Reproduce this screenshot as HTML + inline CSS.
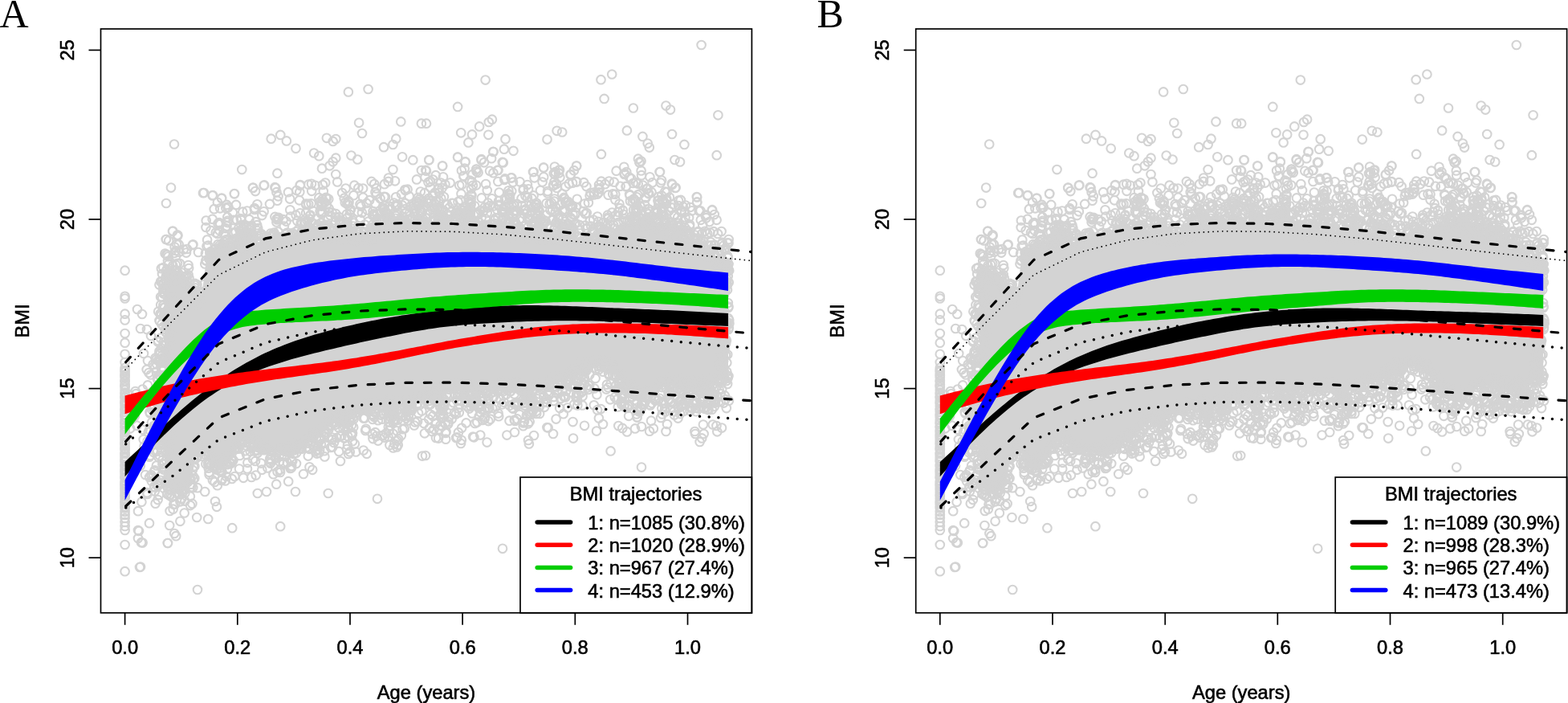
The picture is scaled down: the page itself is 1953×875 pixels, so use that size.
<!DOCTYPE html>
<html><head><meta charset="utf-8"><title>BMI trajectories</title><style>
html,body{margin:0;padding:0;background:#fff;width:1953px;height:875px;overflow:hidden}
svg{display:block}
.tl{font-family:"Liberation Sans",Arial,Helvetica,sans-serif;font-size:23.7px;fill:#000;stroke:#000;stroke-width:0.6px}
.pl{font-family:"Liberation Serif","Times New Roman",serif;font-size:50px;fill:#000}
.bx{fill:none;stroke:#000;stroke-width:1.7}
.lg{fill:#fff;stroke:#000;stroke-width:1.7}
.tk{stroke:#000;stroke-width:1.7;fill:none}
.rg{fill:none;stroke:none;marker-start:url(#ring);marker-mid:url(#ring);marker-end:url(#ring)}
.ds{fill:none;stroke:#000;stroke-width:3.2;stroke-dasharray:8.6 14.82;stroke-dashoffset:-1.55;stroke-linecap:round}
.dt{fill:none;stroke:#000;stroke-width:3.5;stroke-dasharray:0 11.71;stroke-dashoffset:-1.46;stroke-linecap:round}
.dt1{fill:none;stroke:#000;stroke-width:1.8;stroke-dasharray:0 5.855;stroke-dashoffset:-0.73;stroke-linecap:round}
</style></head>
<body><svg width="1953" height="875" viewBox="0 0 1953 875">
<defs><marker id="ring" markerWidth="14" markerHeight="14" refX="7" refY="7" markerUnits="userSpaceOnUse" overflow="visible"><circle cx="7" cy="7" r="5.3" fill="none" stroke="#d3d3d3" stroke-width="2.1"/></marker><clipPath id="clip"><rect x="125.5" y="36.0" width="810.9" height="726.8"/></clipPath></defs>
<text x="-0.5" y="34" class="pl">A</text>
<text x="1017.5" y="34" class="pl">B</text>
<g id="pA">
<g id="sc"><path d="M205.0,345.0 207.0,343.6 209.0,342.2 211.0,340.8 213.0,339.4 215.0,338.0 217.0,338.5 219.0,339.1 221.0,339.6 223.0,340.1 225.0,340.7 227.0,341.2 229.0,341.7 231.0,344.6 233.0,349.7 235.0,354.9 237.0,360.0 239.0,363.0 241.0,366.0 243.0,369.0 245.0,372.0 247.0,369.1 249.0,366.3 251.0,363.4 253.0,354.0 255.0,338.0 257.0,322.0 259.0,313.1 261.0,311.4 263.0,309.7 265.0,308.0 267.0,307.6 269.0,307.2 271.0,306.8 273.0,306.4 275.0,306.0 277.0,305.6 279.0,305.2 281.0,305.0 283.0,305.0 285.0,305.0 287.0,305.0 289.0,305.0 291.0,305.0 293.0,305.0 295.0,305.0 297.0,304.8 299.0,304.6 301.0,304.4 303.0,304.2 305.0,304.0 307.0,303.5 309.0,302.9 311.0,302.4 313.0,301.9 315.0,301.3 317.0,300.8 319.0,300.3 321.0,300.4 323.0,301.2 325.0,302.0 327.0,302.8 329.0,303.6 331.0,303.8 333.0,303.3 335.0,302.8 337.0,302.3 339.0,301.8 341.0,301.4 343.0,300.9 345.0,300.4 347.0,299.9 349.0,299.4 351.0,299.0 353.0,298.5 355.0,298.0 357.0,297.4 359.0,296.7 361.0,296.1 363.0,295.4 365.0,294.8 367.0,294.2 369.0,293.5 371.0,292.9 373.0,292.2 375.0,291.6 377.0,291.0 379.0,290.3 381.0,289.8 383.0,289.4 385.0,289.0 387.0,288.6 389.0,288.2 391.0,287.8 393.0,287.4 395.0,287.0 397.0,286.6 399.0,286.2 401.0,286.1 403.0,286.3 405.0,286.5 407.0,286.7 409.0,286.9 411.0,287.1 413.0,287.3 415.0,287.5 417.0,287.7 419.0,287.9 421.0,288.2 423.0,288.5 425.0,288.8 427.0,289.2 429.0,289.5 431.0,289.8 433.0,290.2 435.0,290.5 437.0,290.8 439.0,291.2 441.0,291.5 443.0,291.8 445.0,292.2 447.0,292.5 449.0,292.8 451.0,292.7 453.0,292.0 455.0,291.3 457.0,290.7 459.0,290.0 461.0,289.3 463.0,288.7 465.0,288.0 467.0,287.3 469.0,286.7 471.0,286.0 473.0,285.3 475.0,284.7 477.0,284.0 479.0,283.3 481.0,282.8 483.0,282.5 485.0,282.2 487.0,281.8 489.0,281.5 491.0,281.2 493.0,280.8 495.0,280.5 497.0,280.2 499.0,279.8 501.0,279.5 503.0,279.2 505.0,278.8 507.0,278.5 509.0,278.2 511.0,277.9 513.0,277.8 515.0,277.7 517.0,277.5 519.0,277.4 521.0,277.3 523.0,277.1 525.0,277.0 527.0,276.9 529.0,276.7 531.0,276.6 533.0,276.5 535.0,276.3 537.0,276.2 539.0,276.1 541.0,276.0 543.0,276.0 545.0,276.0 547.0,276.0 549.0,276.0 551.0,276.0 553.0,276.0 555.0,276.0 557.0,276.0 559.0,276.0 561.0,276.0 563.0,276.0 565.0,276.0 567.0,276.0 569.0,276.0 571.0,276.2 573.0,276.7 575.0,277.2 577.0,277.6 579.0,278.1 581.0,278.6 583.0,279.0 585.0,279.5 587.0,280.0 589.0,280.4 591.0,280.9 593.0,281.4 595.0,281.8 597.0,282.3 599.0,282.8 601.0,283.2 603.0,283.5 605.0,283.8 607.0,284.2 609.0,284.5 611.0,284.8 613.0,285.2 615.0,285.5 617.0,285.8 619.0,286.2 621.0,286.5 623.0,286.8 625.0,287.2 627.0,287.5 629.0,287.8 631.0,288.0 633.0,288.0 635.0,288.0 637.0,288.0 639.0,288.0 641.0,288.0 643.0,288.0 645.0,288.0 647.0,288.0 649.0,288.0 651.0,288.0 653.0,288.0 655.0,288.0 657.0,288.0 659.0,288.0 661.0,288.1 663.0,288.2 665.0,288.3 667.0,288.5 669.0,288.6 671.0,288.7 673.0,288.9 675.0,289.0 677.0,289.1 679.0,289.3 681.0,289.4 683.0,289.5 685.0,289.7 687.0,289.8 689.0,289.9 691.0,290.2 693.0,290.6 695.0,291.0 697.0,291.4 699.0,291.8 701.0,292.2 703.0,292.6 705.0,293.0 707.0,293.4 709.0,293.8 711.0,294.2 713.0,294.6 715.0,295.0 717.0,295.4 719.0,295.8 721.0,296.2 723.0,296.7 725.0,297.2 727.0,297.6 729.0,298.1 731.0,298.6 733.0,299.0 735.0,299.5 737.0,300.0 739.0,300.4 741.0,300.9 743.0,301.4 745.0,301.8 747.0,302.3 749.0,302.8 751.0,302.2 753.0,300.6 755.0,299.0 757.0,297.4 759.0,295.8 761.0,294.2 763.0,292.6 765.0,291.0 767.0,289.4 769.0,287.8 771.0,286.2 773.0,284.6 775.0,283.0 777.0,282.2 779.0,281.4 781.0,280.6 783.0,279.8 785.0,279.0 787.0,278.2 789.0,277.4 791.0,276.6 793.0,275.8 795.0,275.0 797.0,274.2 799.0,273.4 801.0,273.5 803.0,274.5 805.0,275.5 807.0,276.5 809.0,277.5 811.0,278.5 813.0,279.5 815.0,280.5 817.0,281.5 819.0,282.5 821.0,283.6 823.0,284.8 825.0,286.0 827.0,287.2 829.0,288.4 831.0,289.6 833.0,290.8 835.0,292.0 837.0,293.2 839.0,294.4 841.0,295.4 843.0,296.2 845.0,297.0 847.0,297.8 849.0,298.6 851.0,299.4 853.0,300.2 855.0,301.0 857.0,301.8 859.0,302.6 861.0,303.5 863.0,304.5 865.0,305.5 867.0,306.5 869.0,307.5 871.0,308.5 873.0,309.5 875.0,310.5 877.0,311.5 879.0,312.5 881.0,313.5 883.0,314.4 885.0,315.3 887.0,316.3 889.0,317.2 891.0,318.1 893.0,319.1 895.0,320.0 897.0,321.2 899.0,322.5 901.0,323.7 903.0,324.9 905.0,326.2 907.0,327.4 907.0,472.0 905.0,472.0 903.0,472.0 901.0,472.0 899.0,472.5 897.0,473.5 895.0,474.5 893.0,475.5 891.0,476.5 889.0,477.5 887.0,478.5 885.0,479.5 883.0,480.5 881.0,481.5 879.0,482.3 877.0,482.9 875.0,483.5 873.0,484.1 871.0,484.7 869.0,484.8 867.0,484.2 865.0,483.8 863.0,483.2 861.0,482.8 859.0,482.2 857.0,481.8 855.0,481.2 853.0,480.8 851.0,480.2 849.0,479.9 847.0,479.7 845.0,479.5 843.0,479.3 841.0,479.1 839.0,478.9 837.0,478.7 835.0,478.5 833.0,478.3 831.0,478.1 829.0,478.9 827.0,480.8 825.0,482.7 823.0,484.5 821.0,486.4 819.0,488.3 817.0,490.1 815.0,492.0 813.0,492.2 811.0,492.4 809.0,492.6 807.0,492.8 805.0,493.0 803.0,493.2 801.0,493.4 799.0,493.6 797.0,493.8 795.0,494.0 793.0,492.4 791.0,490.7 789.0,489.1 787.0,487.4 785.0,485.8 783.0,484.1 781.0,482.5 779.0,480.8 777.0,478.8 775.0,476.3 773.0,473.9 771.0,471.4 769.0,469.0 767.0,466.6 765.0,464.1 763.0,461.7 761.0,459.2 759.0,457.9 757.0,457.7 755.0,457.5 753.0,457.3 751.0,457.1 749.0,456.9 747.0,456.7 745.0,456.5 743.0,456.3 741.0,456.1 739.0,456.2 737.0,456.7 735.0,457.1 733.0,457.6 731.0,458.0 729.0,458.4 727.0,458.9 725.0,459.3 723.0,459.8 721.0,460.8 719.0,462.5 717.0,464.1 715.0,465.8 713.0,467.4 711.0,469.1 709.0,470.7 707.0,472.4 705.0,474.0 703.0,474.5 701.0,475.1 699.0,475.6 697.0,476.1 695.0,476.7 693.0,477.2 691.0,477.7 689.0,478.3 687.0,478.9 685.0,479.5 683.0,480.1 681.0,480.7 679.0,481.3 677.0,481.9 675.0,482.5 673.0,483.1 671.0,483.7 669.0,484.3 667.0,484.9 665.0,485.5 663.0,486.1 661.0,486.7 659.0,486.9 657.0,486.7 655.0,486.5 653.0,486.3 651.0,486.1 649.0,485.9 647.0,485.7 645.0,485.5 643.0,485.3 641.0,485.1 639.0,484.9 637.0,484.7 635.0,484.5 633.0,484.3 631.0,484.1 629.0,484.1 627.0,484.3 625.0,484.5 623.0,484.7 621.0,484.9 619.0,485.1 617.0,485.3 615.0,485.5 613.0,485.7 611.0,485.9 609.0,486.1 607.0,486.3 605.0,486.5 603.0,486.7 601.0,486.9 599.0,487.0 597.0,487.0 595.0,487.0 593.0,487.0 591.0,487.0 589.0,487.0 587.0,487.0 585.0,487.0 583.0,487.0 581.0,487.0 579.0,487.0 577.0,487.0 575.0,487.0 573.0,487.0 571.0,487.0 569.0,487.0 567.0,487.0 565.0,487.0 563.0,487.0 561.0,487.0 559.0,487.2 557.0,487.5 555.0,487.8 553.0,488.2 551.0,488.5 549.0,488.8 547.0,489.2 545.0,489.5 543.0,489.8 541.0,490.2 539.0,490.5 537.0,490.8 535.0,491.2 533.0,491.5 531.0,491.8 529.0,492.6 527.0,493.8 525.0,495.0 523.0,496.2 521.0,497.4 519.0,498.6 517.0,499.8 515.0,501.0 513.0,502.2 511.0,503.4 509.0,504.1 507.0,504.3 505.0,504.5 503.0,504.7 501.0,504.9 499.0,505.1 497.0,505.3 495.0,505.5 493.0,505.7 491.0,505.9 489.0,506.1 487.0,506.3 485.0,506.5 483.0,506.7 481.0,506.9 479.0,507.2 477.0,507.5 475.0,507.8 473.0,508.2 471.0,508.5 469.0,508.8 467.0,509.2 465.0,509.5 463.0,509.8 461.0,510.2 459.0,510.5 457.0,510.8 455.0,511.2 453.0,511.5 451.0,511.8 449.0,512.3 447.0,513.0 445.0,513.7 443.0,514.3 441.0,515.0 439.0,515.7 437.0,516.3 435.0,517.0 433.0,517.7 431.0,518.3 429.0,519.0 427.0,519.7 425.0,520.3 423.0,521.0 421.0,521.7 419.0,522.9 417.0,524.7 415.0,526.5 413.0,528.3 411.0,530.1 409.0,531.9 407.0,533.7 405.0,535.5 403.0,537.3 401.0,539.1 399.0,540.7 397.0,542.1 395.0,543.5 393.0,544.9 391.0,546.3 389.0,547.7 387.0,549.1 385.0,550.5 383.0,551.9 381.0,553.3 379.0,554.4 377.0,555.2 375.0,556.0 373.0,556.8 371.0,557.6 369.0,558.4 367.0,559.2 365.0,560.0 363.0,560.8 361.0,561.6 359.0,562.1 357.0,562.3 355.0,562.5 353.0,562.7 351.0,562.9 349.0,563.1 347.0,563.3 345.0,563.5 343.0,563.7 341.0,563.9 339.0,563.7 337.0,563.1 335.0,562.5 333.0,561.9 331.0,561.3 329.0,560.7 327.0,560.1 325.0,559.5 323.0,558.9 321.0,558.3 319.0,557.0 317.0,555.0 315.0,553.0 313.0,551.0 311.0,549.0 309.0,548.2 307.0,548.6 305.0,549.0 303.0,549.4 301.0,549.8 299.0,552.1 297.0,556.4 295.0,560.6 293.0,564.9 291.0,569.2 289.0,571.7 287.0,572.5 285.0,573.3 283.0,574.1 281.0,574.9 279.0,575.7 277.0,576.5 275.0,577.3 273.0,576.9 271.0,576.5 269.0,576.1 267.0,575.7 265.0,575.3 263.0,574.9 261.0,571.5 259.0,568.0 257.0,564.6 255.0,562.2 253.0,560.8 251.0,559.4 249.0,560.3 247.0,563.4 245.0,566.5 243.0,569.6 241.0,583.8 239.0,598.0 237.0,601.4 235.0,604.9 233.0,608.3 231.0,610.6 229.0,611.8 227.0,613.0 225.0,614.2 223.0,615.4 221.0,615.4 219.0,614.2 217.0,613.0 215.0,611.8 213.0,610.6 211.0,607.1 209.0,601.4 207.0,595.7 205.0,590.0Z" fill="#d3d3d3"/><path d="M196.2 561.3L196.3 520.3L196.3 535.7L196.9 448.8L197.2 387.8L196.7 473.5L196.9 504.4L197.6 569.2L198.2 548.7L198.5 399.0L198.0 548.0L197.6 488.8L198.5 354.5L198.9 525.7L199.0 529.6L199.0 399.7L198.9 548.1L199.1 567.2L198.5 437.3L200.1 369.5L200.1 350.4L199.9 439.3L200.2 379.5L200.4 550.6L200.5 391.9L199.6 554.4L199.9 420.8L199.9 504.2L199.7 467.2L200.9 334.2L201.4 403.4L200.9 516.5L201.2 458.7L201.1 506.7L200.9 503.0L201.1 513.0L201.0 433.4L200.9 562.6L200.7 392.0L201.7 350.6L202.0 340.9L202.4 577.6L202.1 590.7L201.7 592.3L202.3 573.0L202.0 442.6L202.0 543.6L202.2 370.2L201.7 552.3L202.0 504.7L202.3 499.9L202.7 354.0L203.4 333.1L203.0 451.6L203.4 379.9L203.4 362.8L203.4 429.6L203.2 352.9L202.9 509.9L203.1 539.8L202.7 445.5L203.1 358.8L203.3 449.0L203.7 584.4L204.4 516.0L203.8 426.0L203.6 406.5L204.1 523.2L203.8 430.8L204.3 577.5L203.6 365.6L204.3 467.0L203.9 499.9L204.3 365.3L204.5 577.4L203.9 460.7L203.8 488.9L203.7 476.3L204.4 469.5L204.3 391.4L204.7 352.2L205.4 538.0L205.2 474.9L205.0 584.6L205.0 365.6L204.6 490.9L205.2 498.9L205.9 347.0L205.6 315.6L206.5 598.4L205.6 358.1L205.6 538.6L205.9 466.8L206.0 395.8L205.5 389.5L206.4 428.5L205.9 410.0L206.2 518.9L205.9 470.2L205.9 486.8L206.1 487.8L206.9 344.0L206.9 351.6L207.1 316.8L207.3 337.3L206.8 521.6L206.8 392.6L206.5 409.8L207.4 356.1L207.1 572.9L207.2 414.4L208.0 345.5L208.5 317.3L208.0 335.0L207.6 339.8L208.1 597.4L207.9 605.2L208.3 614.4L207.8 600.3L208.3 563.9L207.6 475.1L207.6 389.0L208.0 407.5L208.3 436.3L207.7 503.8L207.8 359.9L208.5 390.0L207.6 465.8L209.5 341.5L208.6 615.1L209.3 601.6L209.2 606.4L209.1 594.4L209.0 563.4L209.3 494.3L209.0 453.7L209.1 393.0L208.9 509.9L208.8 398.4L208.6 550.8L209.4 558.4L209.2 498.9L209.6 319.3L210.2 299.5L210.2 328.8L209.8 608.8L209.6 348.3L209.8 602.0L210.2 453.9L209.7 373.4L209.9 513.2L210.3 463.0L211.0 342.4L211.1 341.2L211.0 342.4L210.9 340.8L210.8 616.6L211.2 421.5L211.2 550.9L210.5 398.2L210.8 498.6L211.0 492.1L211.6 636.0L211.9 610.3L212.1 344.6L212.3 427.1L211.6 380.4L212.3 584.7L211.7 609.5L212.4 429.0L211.6 380.9L211.9 395.6L211.7 413.7L212.4 349.9L212.4 461.4L213.4 341.2L212.6 615.8L213.4 451.9L213.5 601.6L212.8 371.0L213.3 594.5L213.1 600.9L213.0 481.5L212.6 439.7L213.4 367.4L212.6 348.4L213.0 503.1L213.0 577.8L214.1 343.8L214.1 618.8L213.8 377.0L214.2 534.8L213.6 412.5L213.6 505.5L213.8 575.7L213.8 514.3L214.1 595.4L214.2 592.9L214.1 339.6L213.8 540.5L213.8 518.0L213.6 514.9L215.3 330.6L216.3 627.7L215.6 633.7L217.1 315.1L217.4 604.2L218.4 342.9L217.6 307.5L218.0 336.0L218.3 627.4L218.8 344.8L218.8 329.6L219.1 318.7L220.0 336.5L220.3 613.8L221.3 348.9L221.0 327.9L220.8 292.7L222.2 340.3L222.5 343.4L223.0 313.7L223.5 615.4L224.4 624.3L226.4 339.5L226.4 610.0L225.9 611.0L225.9 620.5L226.2 620.8L227.3 349.7L226.9 605.4L227.1 612.4L227.3 608.9L228.8 344.7L228.7 310.5L229.5 608.5L230.2 350.8L230.3 623.7L230.4 613.8L229.7 638.5L231.1 345.3L232.0 314.6L233.1 354.6L233.3 350.2L233.2 355.8L232.9 351.0L232.5 343.2L234.2 356.4L234.5 330.0L234.5 342.1L234.0 600.0L235.1 363.5L235.1 334.0L235.4 346.1L236.4 597.6L237.3 365.7L236.7 363.4L237.3 596.0L236.9 617.7L237.0 629.1L237.6 596.8L238.3 606.3L238.3 602.8L238.7 359.7L238.6 358.7L239.4 626.9L240.3 365.0L239.5 365.2L239.9 584.9L240.0 591.9L240.3 607.0L240.6 366.5L241.1 580.7L240.8 596.6L241.5 376.8L242.2 357.9L242.1 354.7L242.2 572.2L242.4 580.2L242.3 595.2L242.9 369.6L242.9 371.2L242.8 352.9L243.0 362.3L243.1 566.3L244.0 379.5L244.1 364.8L244.1 361.9L243.7 561.1L244.5 562.1L244.5 569.9L245.3 378.4L245.5 354.2L246.7 567.8L248.0 364.1L248.0 554.2L249.0 376.2L250.5 368.0L249.8 549.5L250.4 561.5L251.3 567.9L251.0 560.8L252.4 363.3L252.3 553.7L254.2 354.1L255.3 328.4L254.5 565.5L256.4 324.6L255.9 315.5L256.5 283.0L256.4 577.4L256.8 324.0L256.7 274.5L258.1 298.5L257.5 306.6L257.6 561.3L259.3 305.7L259.1 577.3L260.3 322.1L259.5 567.4L260.0 563.4L260.5 587.8L259.7 582.7L259.9 578.0L261.4 314.3L261.4 575.6L260.6 590.7L260.6 577.8L261.9 317.2L261.9 320.2L262.0 315.2L262.5 313.2L262.4 579.4L262.6 318.5L262.5 286.9L263.9 567.9L264.9 597.7L265.9 572.6L267.5 600.0L267.8 315.5L267.8 310.0L267.8 579.2L268.1 580.8L267.6 576.2L269.8 572.5L269.6 584.6L271.5 278.2L271.0 291.0L270.7 583.4L270.8 604.2L271.6 304.0L273.3 305.7L273.4 286.8L272.9 579.4L274.0 308.0L273.7 314.6L273.6 315.4L274.2 259.3L274.2 279.0L273.9 577.6L273.9 586.6L275.2 315.4L274.5 572.7L274.5 582.4L275.3 585.6L275.7 308.6L275.7 309.1L276.1 598.1L276.9 307.2L276.6 312.8L277.2 575.2L277.3 568.8L276.5 587.3L276.8 595.9L277.7 310.2L278.4 291.1L277.5 304.9L278.3 572.9L278.1 577.6L278.5 305.2L278.8 301.0L278.6 573.9L280.0 305.6L279.8 565.7L279.8 572.6L280.7 284.1L280.8 293.6L281.3 298.3L280.7 598.4L282.5 281.6L281.9 593.0L283.2 310.0L283.0 298.7L283.4 277.1L283.3 270.2L282.9 584.0L283.6 311.6L283.5 257.7L284.4 566.5L283.7 566.8L283.6 578.1L284.6 305.9L284.5 258.0L285.8 564.3L286.1 576.8L287.7 306.5L287.6 571.2L287.8 576.7L288.7 298.5L288.6 571.5L289.3 572.9L289.2 572.5L289.7 314.8L289.8 574.0L290.9 273.9L290.9 299.8L290.5 572.8L292.5 310.6L291.7 312.7L291.7 290.2L291.9 559.1L292.3 593.0L292.6 305.4L293.5 556.7L292.7 559.5L293.9 310.7L293.6 288.8L294.4 553.2L295.0 306.1L294.5 296.5L295.5 299.2L295.3 296.6L295.0 273.8L294.6 558.6L297.5 311.1L297.5 303.4L297.5 300.1L297.3 283.7L297.4 304.2L297.3 303.3L297.0 558.7L298.1 303.7L298.1 551.8L298.0 583.5L299.1 311.9L298.9 287.5L298.7 301.3L299.4 302.1L299.2 549.5L299.0 551.9L298.6 567.0L300.0 294.9L299.8 272.1L299.7 292.4L299.7 295.0L300.4 274.1L300.3 297.2L300.4 280.2L300.1 547.3L300.4 550.3L301.2 288.1L301.3 303.4L300.7 550.6L301.7 285.4L301.8 284.4L302.2 292.5L302.5 300.3L302.4 302.3L302.3 263.7L302.0 551.3L302.0 550.7L302.0 551.3L302.9 304.8L303.2 298.3L302.6 294.7L304.3 283.0L304.3 279.6L304.4 290.5L304.9 303.4L304.6 296.5L305.2 303.4L304.8 303.8L305.3 290.3L304.6 299.3L305.2 542.0L304.6 547.7L305.2 561.2L306.1 294.9L305.9 303.1L306.0 300.3L305.7 551.1L307.4 309.7L306.8 300.5L306.9 293.0L306.6 299.9L307.4 302.3L307.3 281.2L307.1 288.7L307.2 294.2L307.4 295.0L307.2 566.1L306.9 554.8L308.3 300.5L307.8 262.6L307.7 300.9L307.8 298.5L307.7 302.0L308.4 575.8L308.0 583.5L308.9 298.2L308.6 301.9L310.3 312.4L310.3 305.6L310.4 302.0L310.0 286.1L310.5 290.4L310.4 302.1L310.0 297.2L311.0 296.2L310.5 301.6L310.5 273.2L312.1 306.3L312.4 282.9L312.0 547.4L312.4 553.2L311.7 561.8L313.2 300.5L312.6 283.6L313.3 290.5L313.4 280.9L313.1 543.9L314.5 304.1L314.5 294.4L313.9 290.0L313.8 297.1L314.2 301.3L314.2 301.1L314.5 555.2L315.0 556.9L315.0 571.4L317.0 260.9L317.0 259.1L317.2 547.2L316.7 551.3L318.5 276.2L318.3 560.5L318.7 591.6L319.4 560.3L320.2 280.2L320.4 254.3L320.1 555.4L320.3 560.7L320.6 301.8L320.5 301.9L321.2 300.4L321.2 284.2L320.5 287.0L320.5 549.7L320.7 563.5L320.6 563.9L322.5 308.8L322.1 293.7L322.1 557.2L323.4 310.6L324.1 557.3L325.4 308.9L325.2 300.6L325.4 292.9L325.1 576.6L326.4 268.1L325.5 291.0L326.4 557.1L326.3 584.7L326.9 309.6L326.8 559.9L328.5 305.4L328.9 303.3L328.8 295.4L329.3 551.9L329.1 556.6L328.8 555.3L330.4 296.4L329.6 560.2L331.8 307.9L331.9 310.2L331.7 306.3L331.6 559.3L332.1 556.1L333.3 582.4L333.7 296.3L334.7 308.9L335.0 300.8L335.2 299.6L336.0 305.3L336.1 294.2L335.8 575.0L336.2 570.7L337.2 302.7L336.9 311.8L337.2 301.6L336.9 290.7L336.7 300.1L337.1 560.3L337.1 560.9L336.9 576.7L337.8 302.2L337.5 572.0L339.2 292.1L338.9 301.2L339.2 559.3L339.0 560.5L339.4 560.1L339.9 310.8L340.5 590.2L341.4 289.6L341.4 293.1L341.6 307.2L342.3 299.7L342.5 269.9L342.1 291.7L342.6 306.6L342.7 300.7L342.9 297.6L342.7 569.2L344.3 302.6L343.9 304.5L343.8 302.7L344.2 295.5L344.4 276.4L343.9 570.5L344.2 602.7L345.2 273.5L344.7 272.3L345.2 561.1L346.5 299.7L346.4 288.6L346.2 271.9L345.8 562.9L345.6 587.3L347.1 305.2L346.6 309.6L347.0 270.8L347.1 294.9L346.5 244.3L347.0 556.4L347.6 567.3L348.2 574.5L348.7 584.8L349.6 301.8L350.3 556.7L350.8 303.6L351.0 296.9L350.6 567.6L351.9 303.1L352.1 300.8L352.2 558.2L353.4 295.3L352.7 273.2L353.1 575.9L352.6 577.7L353.9 281.6L354.3 561.6L354.2 567.6L355.0 304.5L355.3 306.8L355.7 306.0L356.1 291.0L356.0 295.0L356.5 275.6L355.9 561.8L356.9 304.6L357.7 300.0L357.8 289.5L357.8 575.7L359.0 562.6L358.7 562.4L361.3 261.3L361.5 582.9L360.9 562.1L362.0 269.5L361.7 292.0L363.4 299.2L362.7 293.8L363.0 553.6L362.9 582.2L363.2 580.1L363.0 560.9L363.9 298.7L364.2 290.1L363.6 557.3L364.2 551.3L364.3 573.9L364.8 559.8L366.2 298.7L366.2 555.6L366.4 549.8L366.2 560.4L365.8 565.0L367.1 301.1L367.3 292.6L366.8 551.0L366.9 549.8L367.4 559.5L369.3 297.4L368.6 267.7L368.7 288.3L369.4 237.0L368.6 550.8L369.0 563.7L369.0 577.1L370.3 274.9L370.2 555.6L371.3 286.2L373.3 239.0L372.9 249.3L372.9 558.0L373.4 558.4L373.8 265.3L374.3 290.7L375.4 291.2L374.7 277.4L375.3 288.7L375.4 558.8L376.0 296.3L376.2 278.6L376.4 551.1L376.2 554.9L377.0 288.0L376.7 548.0L376.8 553.0L377.6 549.9L379.2 299.3L379.3 277.5L379.8 298.8L380.3 276.3L380.4 287.9L380.5 546.4L381.3 297.5L381.1 297.6L380.7 294.3L381.2 253.5L381.3 254.9L381.1 265.2L382.2 292.8L382.1 293.0L381.9 543.8L382.0 556.6L382.6 287.4L382.7 274.9L383.5 292.1L383.8 282.6L384.1 283.2L384.2 281.9L384.2 288.2L383.6 551.6L383.8 567.6L385.3 298.9L385.0 272.5L385.5 581.3L385.1 558.5L385.5 287.1L385.8 268.4L385.8 543.9L385.9 559.0L386.6 267.7L386.9 540.9L387.0 550.2L388.2 237.8L387.7 276.2L387.6 253.3L388.3 287.4L388.3 539.4L390.3 262.9L390.0 543.7L389.9 546.0L389.6 549.5L391.3 287.0L391.0 278.7L391.5 542.5L390.7 556.6L391.5 287.3L391.8 284.2L391.5 540.4L393.3 290.9L392.7 294.0L392.7 561.5L394.0 291.0L394.1 539.3L393.8 545.1L394.7 288.1L395.2 283.4L394.7 564.6L395.1 560.6L396.0 279.7L395.9 281.3L396.2 555.6L397.4 246.2L397.3 538.0L397.5 546.0L397.5 563.4L398.2 560.2L398.8 250.8L398.6 262.7L398.6 530.7L399.0 531.5L399.0 545.2L398.6 548.0L400.2 256.6L400.5 253.4L399.7 277.5L399.8 265.7L400.3 265.3L399.9 545.6L399.9 552.7L399.9 546.1L401.0 295.3L400.7 284.4L400.6 277.5L401.3 263.7L401.0 253.5L401.6 287.2L401.6 295.7L401.6 291.6L401.6 247.8L401.8 281.8L401.8 264.5L402.4 284.1L403.2 289.3L403.2 289.8L402.8 238.0L403.2 280.3L403.6 293.5L404.2 282.8L404.4 551.7L404.0 561.2L404.4 568.4L404.0 544.1L404.7 283.6L404.5 252.0L404.8 540.3L404.8 537.8L406.1 293.3L405.9 245.9L405.7 281.5L407.3 292.5L407.0 279.9L407.1 246.6L407.0 254.7L408.4 522.9L408.2 533.3L408.8 272.8L409.4 263.6L409.3 247.8L408.7 280.0L409.5 530.1L409.3 535.1L408.7 544.7L409.9 296.0L409.8 293.3L409.8 259.7L411.2 267.9L410.6 524.1L412.3 292.0L412.1 286.6L411.9 557.0L412.9 292.9L413.5 520.4L413.5 544.6L413.1 529.2L413.6 264.5L413.5 526.2L413.6 547.4L414.2 556.5L415.1 526.4L415.9 550.9L416.8 294.9L417.4 284.3L417.4 276.6L417.2 528.9L417.5 526.1L418.0 270.4L418.2 266.1L419.5 289.2L418.7 296.6L419.8 285.8L420.1 512.9L419.6 544.9L421.3 296.9L421.4 293.2L421.1 515.8L421.4 522.6L421.5 532.1L422.4 290.1L422.3 273.6L422.3 270.2L422.2 561.9L423.1 278.8L423.0 276.2L422.7 519.7L424.2 276.6L424.1 288.6L424.1 518.8L424.4 519.6L424.4 524.5L423.6 542.9L424.6 278.7L425.0 518.1L425.5 521.3L425.4 542.6L425.6 292.4L426.0 288.3L426.2 240.1L426.4 515.3L425.6 517.6L426.4 511.0L426.4 511.3L426.5 515.5L426.7 283.9L427.5 278.8L426.9 513.1L427.5 533.2L427.1 522.2L428.2 298.7L428.5 282.0L427.7 283.5L427.8 516.9L429.3 296.6L428.7 246.7L429.1 545.1L429.3 522.2L429.1 524.9L428.8 523.7L429.2 526.7L429.0 545.5L429.2 520.1L429.2 531.0L429.1 523.5L429.0 523.6L430.0 285.2L429.8 252.2L430.1 525.1L430.6 234.6L431.2 289.0L431.3 522.7L431.7 298.2L431.6 279.3L432.2 253.5L432.3 271.6L431.9 266.5L432.0 559.1L432.1 527.7L433.5 297.0L432.8 291.2L433.1 293.4L433.3 299.3L432.7 277.3L433.5 286.6L433.2 543.1L432.8 532.3L433.0 554.2L434.1 250.2L434.0 255.2L433.7 516.9L434.1 533.5L434.0 565.0L435.2 291.2L434.5 252.0L435.3 523.8L435.6 266.9L436.0 262.5L435.7 524.0L435.8 562.4L435.6 525.3L435.9 521.5L437.3 291.1L437.1 294.9L436.9 291.5L436.9 260.8L437.0 290.4L437.2 288.6L436.7 509.8L437.5 539.1L436.7 524.0L437.5 292.6L438.0 510.0L438.2 507.2L437.8 515.7L437.8 529.3L438.1 541.9L438.6 295.9L438.6 288.8L439.0 274.4L439.0 549.2L438.8 539.9L439.4 519.7L439.0 539.3L440.3 291.7L440.4 300.1L439.5 291.2L439.9 281.5L440.4 243.2L440.2 531.8L440.9 277.5L440.5 521.8L441.6 511.3L441.8 552.6L443.4 299.7L443.5 286.9L443.3 562.5L442.6 514.4L444.9 298.9L445.2 297.4L446.0 263.7L446.4 234.1L446.1 286.9L446.4 508.8L446.2 512.9L447.0 289.5L446.7 281.4L447.8 294.4L448.4 302.3L448.3 505.6L448.3 510.4L449.2 297.2L448.5 254.2L448.6 273.2L449.4 286.4L449.4 506.1L449.2 511.1L450.2 298.3L449.7 256.7L450.7 297.9L450.9 264.8L451.5 509.3L451.7 296.8L452.2 245.8L452.1 234.6L453.3 298.2L452.9 294.1L452.7 560.6L452.6 520.6L454.2 289.0L454.3 279.6L454.0 508.5L454.0 508.5L454.0 501.9L454.3 520.6L454.8 289.0L455.2 535.9L456.0 503.8L455.8 533.8L456.6 252.9L457.4 511.5L457.6 261.5L457.9 508.8L458.2 511.3L458.7 293.9L459.1 295.1L459.3 298.8L458.9 293.8L458.8 275.7L460.2 249.2L460.1 505.9L461.2 298.8L461.2 284.9L462.1 283.4L461.5 504.4L462.9 288.3L463.5 499.9L463.8 294.4L463.7 284.0L463.7 287.2L463.7 279.9L464.1 268.0L463.7 505.1L464.1 515.7L464.2 521.9L463.8 540.2L464.5 546.1L465.2 266.4L464.6 263.1L464.9 517.1L466.0 296.6L465.5 296.2L466.2 284.3L465.8 286.7L466.2 229.0L465.9 500.4L465.9 519.1L466.8 289.6L467.0 289.3L467.4 253.4L467.2 269.0L466.6 282.4L466.9 504.7L467.0 509.5L467.4 538.2L467.1 513.7L467.5 239.2L467.9 286.1L468.3 504.7L467.9 504.3L468.3 512.2L468.2 513.8L468.9 281.5L469.2 272.6L469.4 273.2L469.0 276.4L469.3 285.4L468.7 234.4L469.1 241.6L468.9 280.4L469.3 503.3L468.9 542.8L470.3 278.0L470.0 266.1L470.6 292.3L471.3 283.6L470.9 548.6L470.9 523.2L471.9 273.2L472.0 282.9L474.1 285.6L473.7 293.5L473.5 246.9L474.0 506.0L473.9 516.2L474.6 288.6L474.7 285.2L475.4 288.8L475.1 281.5L474.6 265.4L474.6 516.6L475.8 284.3L475.9 283.6L476.1 281.9L475.7 272.0L475.7 276.3L475.6 507.1L475.8 521.7L476.0 513.9L476.0 542.1L477.4 289.2L477.4 294.0L477.2 283.5L476.8 258.3L476.6 542.4L477.6 261.4L478.1 259.4L478.4 244.9L478.5 291.8L478.9 256.1L478.9 229.2L478.9 498.2L478.8 544.6L480.4 284.4L479.5 290.1L480.0 264.5L480.5 268.9L480.0 263.1L480.0 245.2L480.9 283.3L481.4 264.4L480.8 512.5L481.0 539.3L482.3 284.3L482.0 291.9L482.4 289.9L482.4 506.5L482.8 266.4L482.7 266.2L483.4 266.4L482.5 280.3L483.0 276.5L483.9 221.5L484.2 277.2L484.2 260.8L483.7 497.5L484.1 525.1L484.2 514.6L483.5 543.6L484.0 520.7L483.8 531.4L484.6 256.7L484.6 280.7L484.8 280.3L484.8 274.3L484.6 536.1L485.4 553.9L484.9 513.1L485.6 270.6L486.2 498.5L485.8 514.7L486.3 530.0L487.5 284.9L486.7 271.5L487.2 278.6L487.0 500.2L486.6 510.1L487.4 508.7L487.7 273.9L488.0 513.1L487.7 520.4L488.7 514.0L488.6 517.2L489.5 525.4L489.4 511.0L490.0 288.1L489.7 557.4L489.8 516.0L489.5 539.8L490.3 523.1L489.8 508.9L490.0 512.2L490.6 252.6L491.1 280.6L491.2 505.1L491.3 552.6L491.3 511.9L491.5 524.0L490.8 523.1L492.3 287.2L492.0 225.3L492.4 271.8L492.2 500.1L492.1 523.2L493.3 269.0L493.0 256.9L493.0 280.0L493.2 275.1L493.1 255.0L493.1 245.3L494.4 536.3L494.3 509.9L494.2 556.4L494.8 255.7L494.8 267.0L494.9 548.6L495.5 522.8L496.2 289.8L495.7 280.3L495.5 254.5L496.0 277.3L495.8 553.8L496.2 546.6L496.5 285.9L497.4 289.7L497.1 282.5L497.2 289.6L496.9 274.1L498.2 282.9L497.7 498.0L499.4 272.4L500.5 286.7L500.0 241.6L500.4 261.8L499.9 495.8L499.8 542.0L501.1 289.3L501.2 269.3L501.0 255.4L501.2 506.3L502.2 287.5L501.8 275.0L502.1 503.4L502.5 504.7L501.5 534.2L502.2 518.3L503.2 287.3L502.9 275.8L502.9 501.6L502.8 524.0L503.8 280.0L504.4 236.0L504.5 252.9L503.7 533.4L505.1 288.4L505.0 282.0L504.7 260.2L505.5 265.4L504.8 236.9L505.2 517.7L505.5 282.1L505.5 275.3L506.0 520.5L506.1 512.0L506.8 276.9L507.1 272.9L507.3 503.2L507.3 506.0L507.0 510.7L507.6 235.7L507.9 503.2L507.6 505.2L509.3 281.5L509.1 278.3L508.8 281.4L508.8 279.6L508.5 280.4L508.6 523.3L508.9 517.6L509.7 244.2L510.1 500.3L509.5 504.2L510.2 508.3L510.7 257.6L510.6 509.9L511.3 507.5L511.7 256.5L511.8 499.1L512.9 282.8L513.5 282.9L513.2 282.0L512.8 271.2L513.0 273.6L513.2 497.8L512.7 500.6L512.5 505.6L513.1 503.2L512.8 511.0L514.3 284.1L514.0 282.0L514.2 498.4L514.1 494.6L514.8 282.9L514.5 259.8L515.8 255.3L515.9 529.5L516.8 266.6L516.9 265.8L516.8 262.2L517.1 525.5L517.6 278.3L517.5 280.6L517.6 259.5L518.8 250.6L519.2 495.6L518.9 504.7L520.0 277.3L520.0 273.1L519.7 252.5L519.7 495.2L520.1 524.4L521.1 282.3L520.9 245.8L521.1 514.3L520.5 502.1L522.0 252.5L521.6 273.9L522.4 255.3L521.8 492.3L523.0 279.4L522.7 261.7L522.8 247.8L522.7 504.1L523.7 286.2L523.8 238.6L524.0 264.7L523.5 261.5L524.2 275.4L523.9 276.5L524.2 491.4L525.3 250.8L524.9 494.3L524.5 495.6L525.4 511.5L526.1 282.4L525.5 285.3L525.8 263.9L525.7 274.6L526.4 491.6L526.8 284.2L527.0 286.0L527.1 276.6L527.0 275.3L527.4 257.4L526.6 259.5L526.8 492.7L528.1 489.3L528.1 527.0L529.5 278.2L529.3 277.1L529.5 220.4L528.9 240.2L529.1 488.2L528.9 539.3L530.3 271.5L530.4 488.4L530.0 484.2L531.4 283.1L531.4 281.2L531.0 485.1L531.2 497.1L532.3 276.7L532.1 252.7L532.0 271.3L532.1 494.3L533.3 252.8L532.9 490.2L533.4 482.5L533.5 281.5L533.5 226.9L534.5 249.6L533.8 247.0L533.8 483.2L534.2 521.8L534.0 499.1L534.5 492.0L534.5 285.6L535.2 280.0L535.4 266.6L535.5 481.7L534.7 504.0L534.9 532.9L536.1 286.1L535.9 233.2L536.0 225.6L536.2 502.8L535.7 498.6L536.3 515.8L537.3 250.8L537.3 487.7L536.5 503.0L537.0 491.8L538.3 286.1L537.5 493.5L538.1 537.0L539.5 255.2L538.8 260.9L539.2 223.5L539.3 244.1L539.2 489.1L539.2 517.9L540.4 271.4L540.2 484.7L540.4 534.3L540.4 495.7L539.9 497.4L540.9 283.8L541.5 239.9L540.7 274.2L541.1 260.8L540.7 275.9L540.9 258.6L541.6 284.1L541.9 275.1L542.4 254.6L541.6 273.4L542.5 489.2L542.4 488.0L542.1 496.3L542.2 509.4L542.7 218.2L542.7 250.3L543.4 484.9L542.7 527.2L543.4 526.4L544.5 482.7L544.2 484.1L544.4 497.8L545.5 283.7L544.8 258.2L545.1 493.3L545.7 274.9L545.9 273.0L546.5 269.4L545.5 259.3L545.7 234.5L545.8 271.4L545.7 500.5L546.1 545.6L546.0 499.2L546.3 490.1L547.2 279.4L546.6 283.1L546.7 249.9L546.7 234.7L547.2 260.5L547.0 240.1L547.2 500.2L546.9 534.4L547.5 273.6L548.0 516.0L548.0 505.3L547.9 505.1L548.2 506.7L548.5 529.5L547.7 496.6L549.4 270.1L549.3 246.8L549.2 261.6L549.1 502.7L550.2 267.6L550.0 521.0L550.1 511.5L549.7 492.7L550.7 233.9L551.5 479.6L551.5 483.4L550.9 530.5L551.0 508.5L550.9 495.5L552.5 270.4L552.0 220.3L552.3 261.7L552.4 275.3L552.5 273.1L552.1 497.3L551.8 519.1L552.3 501.5L552.1 515.5L552.9 245.1L553.0 504.4L553.2 506.6L552.9 496.7L554.4 229.6L555.0 539.0L555.2 546.7L554.7 526.4L556.4 273.0L555.9 491.6L557.2 254.7L556.6 490.9L557.4 494.4L558.3 285.6L558.1 275.3L557.8 266.8L558.2 527.8L559.1 276.1L558.5 525.3L559.0 519.5L560.1 273.2L559.7 258.4L559.7 484.7L560.3 491.7L559.6 492.0L560.6 284.5L561.6 282.6L562.1 278.4L561.6 263.7L562.0 504.6L563.3 281.7L563.1 252.8L562.7 521.6L564.3 253.1L564.0 272.6L563.9 477.2L564.7 501.2L565.7 277.1L566.0 280.5L566.0 513.9L566.8 265.7L567.4 482.1L568.2 276.8L567.8 270.1L567.5 480.4L568.5 478.0L568.1 544.9L567.8 515.6L568.8 282.7L568.5 270.6L569.3 264.6L569.4 499.0L569.5 544.4L569.9 279.4L570.2 268.1L569.6 267.2L570.0 271.3L570.2 484.3L569.9 498.6L570.4 491.0L570.3 508.2L571.0 281.1L570.5 251.2L570.9 538.2L571.8 266.3L571.9 263.9L571.8 488.8L571.8 513.5L572.9 478.3L572.7 478.4L572.7 491.3L572.5 503.6L573.8 271.8L573.9 261.3L573.6 264.8L573.7 249.1L574.4 479.9L573.6 484.5L573.6 477.1L573.6 498.4L574.9 212.3L575.3 229.8L574.5 241.3L575.0 486.6L574.5 492.8L575.1 532.8L574.8 547.8L576.9 261.9L576.8 483.2L576.9 494.2L578.3 489.3L578.0 491.8L579.3 259.7L579.0 257.6L578.6 209.7L578.7 272.4L579.2 270.1L579.4 267.9L579.3 481.9L579.3 493.7L579.3 494.0L578.7 491.8L578.8 493.1L579.4 493.4L579.6 286.0L580.2 267.2L579.7 482.7L581.4 272.1L581.2 267.0L580.8 483.6L581.0 479.5L580.6 485.5L580.6 526.4L581.4 505.5L582.2 287.1L582.0 263.5L581.9 261.7L581.9 483.9L581.7 500.9L582.1 490.2L582.7 280.9L582.7 276.4L582.9 277.9L583.2 266.2L582.8 277.9L582.7 478.1L582.9 496.9L583.6 281.5L584.1 250.5L584.1 267.8L583.7 247.6L583.7 275.5L584.5 508.6L584.8 281.7L585.4 269.1L584.5 270.6L585.0 269.7L585.3 224.7L585.4 252.9L585.1 480.2L585.9 265.9L586.2 273.0L586.0 275.5L585.6 259.6L586.5 501.3L586.2 500.8L586.4 505.8L586.7 260.9L586.5 242.4L587.1 243.2L587.4 242.9L587.0 275.8L586.7 254.2L586.6 248.6L586.9 235.1L587.6 280.9L588.4 284.6L587.8 226.2L587.8 277.9L587.9 498.1L588.3 500.2L588.1 514.5L589.0 277.8L588.6 217.2L589.1 478.9L588.6 479.3L588.7 503.1L589.2 490.5L588.5 487.3L588.8 501.6L589.1 543.6L590.4 275.8L590.3 494.9L590.4 544.3L591.1 286.1L591.2 256.3L591.2 274.6L591.5 278.2L590.8 501.2L591.9 278.6L592.3 486.5L591.6 526.9L591.9 492.8L591.6 494.8L593.3 267.3L593.2 500.7L592.9 494.5L592.9 492.1L593.7 265.1L593.6 213.4L593.5 281.2L593.9 486.7L594.3 525.6L593.5 498.4L595.2 282.9L595.4 281.3L594.8 483.1L595.0 487.4L595.8 266.4L596.4 280.7L595.6 214.8L595.9 482.0L597.4 277.3L597.4 483.4L597.0 507.0L596.6 506.0L596.8 517.9L598.0 285.5L598.3 541.5L597.9 489.8L598.1 505.3L599.0 287.0L598.5 262.1L598.5 499.1L598.5 503.1L598.6 513.2L598.5 495.2L600.0 285.5L599.9 289.8L599.8 246.4L599.7 270.8L599.7 478.9L600.1 478.5L600.2 480.8L599.7 509.4L600.1 499.0L599.8 504.3L600.3 494.7L600.9 281.6L600.7 481.1L601.2 499.2L601.0 522.9L602.1 263.1L601.6 263.8L604.4 293.3L603.7 257.9L603.6 521.4L604.0 519.0L604.9 284.7L604.8 281.0L605.1 229.1L604.9 272.6L604.7 483.3L605.4 507.3L606.3 287.0L606.2 486.0L605.6 489.9L606.1 489.3L606.3 487.6L606.5 280.2L606.7 265.0L607.0 258.6L607.2 509.4L607.5 492.4L607.5 286.5L608.0 252.6L607.6 509.1L608.3 524.1L608.2 495.4L609.2 289.9L609.4 507.8L610.2 286.8L610.1 291.7L610.5 279.1L610.1 282.4L610.3 256.1L610.1 212.8L610.5 481.4L609.7 502.4L610.8 284.1L611.1 283.5L610.8 521.7L610.9 489.5L611.9 289.7L611.8 293.9L612.0 290.6L612.5 479.3L612.9 294.9L613.0 279.0L612.7 247.3L613.4 483.2L613.3 508.0L614.4 215.2L614.5 256.5L615.5 273.9L614.9 283.4L614.7 488.1L614.6 494.8L614.6 493.4L615.7 294.8L616.1 289.4L616.3 273.8L616.7 294.4L617.4 271.3L616.9 278.4L618.1 295.0L618.0 505.9L619.1 260.9L618.8 280.7L618.6 285.6L619.0 486.2L620.3 291.1L620.5 288.9L620.3 226.0L620.4 271.4L621.3 254.9L621.4 256.6L621.1 250.3L621.0 280.4L621.4 485.5L621.2 518.2L620.9 486.1L620.6 514.6L622.1 287.5L621.7 239.6L622.3 479.9L623.2 497.1L623.7 289.1L623.7 292.8L624.1 281.7L623.7 475.7L623.9 486.4L625.3 263.6L624.7 278.6L624.8 475.0L625.4 503.4L626.4 292.5L626.1 290.9L626.4 264.0L625.8 273.2L625.7 287.1L625.9 481.5L626.6 260.0L627.5 271.3L627.1 480.9L627.1 492.7L626.8 487.2L628.2 289.0L628.1 266.2L628.4 283.2L627.8 282.6L628.4 475.8L627.8 500.8L629.0 293.8L629.3 257.3L628.9 247.2L629.8 276.3L630.5 248.6L630.5 481.9L630.2 491.3L631.6 479.2L631.6 475.8L632.0 481.1L633.4 290.8L632.6 277.2L633.3 268.2L632.7 279.2L633.2 252.9L633.2 241.2L633.4 237.3L633.3 483.3L632.5 485.5L634.1 242.0L634.1 271.7L633.8 266.8L634.7 257.5L634.7 245.5L634.7 275.8L635.1 246.7L635.2 242.9L634.7 476.8L634.7 504.7L634.5 523.7L635.2 487.3L635.9 295.4L636.0 287.6L636.2 487.1L637.2 479.1L636.8 475.9L638.2 271.5L637.5 256.6L638.0 482.8L637.8 507.8L638.6 290.3L639.0 278.5L639.0 226.7L639.1 266.4L638.7 287.7L639.2 508.7L640.0 263.0L640.3 255.2L640.2 275.5L640.4 482.5L640.3 502.7L641.4 288.0L640.7 283.7L640.8 279.6L640.7 522.8L640.6 490.5L641.9 290.7L641.9 276.5L641.5 523.9L642.0 502.0L642.5 262.1L642.7 284.5L642.6 267.4L644.0 253.9L644.3 475.4L644.1 505.1L644.1 521.4L645.2 292.9L644.6 295.3L645.4 284.7L644.8 286.3L645.2 476.5L644.5 480.4L645.4 482.5L645.3 483.4L644.5 501.1L645.5 503.0L645.8 289.3L645.7 294.5L647.5 226.3L647.2 516.1L648.1 283.9L647.6 485.8L648.6 288.3L649.4 286.6L648.9 272.0L648.5 479.8L649.2 478.3L649.4 499.6L649.6 247.1L649.8 271.8L650.3 486.9L650.8 502.2L651.6 236.7L652.4 261.6L652.3 482.6L651.6 497.9L651.9 526.4L652.4 496.2L651.7 530.2L651.7 488.8L653.1 297.5L653.0 266.2L652.9 524.9L653.2 504.8L654.4 243.7L654.0 261.9L653.6 491.3L653.7 491.7L654.8 289.0L655.1 279.6L654.9 279.6L656.5 283.8L656.1 265.8L655.9 516.7L656.3 488.5L655.7 501.6L656.9 230.1L656.9 246.0L657.1 272.8L657.0 489.7L657.7 294.9L658.5 294.4L658.1 235.3L658.1 272.0L658.2 490.2L657.9 527.3L659.2 293.4L659.2 289.1L659.0 272.1L659.4 485.1L659.3 515.0L658.9 552.4L658.9 496.2L659.0 487.9L660.4 267.4L659.7 524.8L660.6 492.0L660.8 500.0L661.2 516.0L661.5 493.6L662.1 292.8L661.8 289.6L662.1 280.6L661.7 254.6L662.4 246.9L661.8 513.2L662.7 278.4L662.5 506.2L664.3 257.7L664.2 480.6L663.5 511.8L664.2 499.7L663.7 510.5L664.0 486.8L665.4 478.3L666.2 285.6L665.7 277.3L666.4 254.2L666.2 281.7L666.1 284.9L666.5 276.3L666.3 506.6L666.5 504.8L666.9 276.6L666.9 264.8L666.7 503.2L667.6 258.1L668.3 252.8L668.1 255.2L667.9 477.4L668.1 511.8L668.2 514.9L669.0 293.0L669.1 287.1L669.3 268.3L669.8 289.2L670.0 259.2L669.8 287.5L669.8 267.0L670.1 274.4L669.9 287.5L669.8 496.4L670.5 286.3L671.5 280.4L671.4 261.9L671.2 482.0L672.4 297.9L671.6 263.9L671.9 490.4L671.7 506.4L672.1 515.0L671.5 505.3L672.9 298.1L673.4 273.7L673.0 275.8L674.3 271.7L673.6 478.1L675.3 279.3L674.7 288.0L674.9 485.0L676.5 298.2L675.6 226.6L676.4 285.2L676.7 291.6L676.7 277.6L677.3 278.4L677.5 479.0L676.7 500.9L676.6 483.7L677.1 493.6L678.4 293.4L678.2 481.7L678.0 506.8L679.3 294.5L678.8 274.5L678.5 479.1L680.3 293.5L680.1 275.8L679.6 267.8L680.2 476.4L680.2 480.2L680.6 253.1L680.5 477.3L681.1 496.7L681.2 501.0L682.2 296.7L682.1 238.1L682.0 240.4L683.3 479.5L683.1 490.1L682.7 532.4L683.5 492.2L684.5 292.1L684.2 291.3L684.4 488.7L684.6 253.7L684.6 281.6L684.9 477.4L685.5 261.6L685.9 470.3L686.6 295.6L686.8 252.4L687.2 471.8L687.9 297.9L687.5 273.9L688.1 260.7L688.3 469.1L688.9 272.8L688.6 273.9L688.8 469.3L689.4 499.1L690.1 290.7L690.3 250.6L689.9 286.6L689.9 494.1L690.7 247.6L691.1 283.2L690.9 207.6L690.6 225.9L690.8 477.5L691.5 214.1L692.0 257.7L691.9 264.0L692.8 276.9L693.0 228.9L692.9 276.7L693.3 470.7L693.3 481.6L692.6 521.6L694.0 298.7L693.6 234.0L693.9 485.7L695.0 272.1L694.9 277.8L695.1 468.7L695.0 470.6L694.9 478.8L696.4 287.1L696.0 215.4L696.2 270.0L695.6 489.6L697.4 220.7L697.3 280.1L697.4 476.5L697.2 508.1L698.5 254.8L698.2 496.0L698.2 495.9L699.1 282.5L699.5 479.6L700.4 262.2L699.8 290.5L699.5 477.4L700.4 487.0L699.8 477.0L701.4 293.5L700.9 279.1L701.1 272.7L700.8 475.6L702.3 290.0L702.4 285.8L701.7 515.2L702.2 493.1L702.5 245.9L703.1 289.8L703.2 247.5L702.6 282.2L703.1 263.0L702.6 494.0L703.6 301.9L703.7 260.5L704.3 289.4L704.1 283.7L704.1 251.6L703.9 275.7L704.4 494.3L704.5 477.3L705.1 290.6L704.9 284.3L705.2 486.7L706.5 300.2L705.9 283.9L705.8 251.9L706.0 472.4L706.5 472.7L705.9 474.0L707.3 278.3L706.8 507.5L707.4 476.1L708.4 293.7L707.8 299.6L707.8 251.2L708.4 286.0L707.8 476.0L709.5 294.3L709.1 468.9L709.5 464.4L710.8 271.1L711.4 290.6L710.6 255.1L710.9 258.3L710.8 284.8L710.5 460.2L710.7 481.4L710.5 488.4L712.2 297.4L712.1 257.2L712.0 283.7L711.7 273.0L712.1 465.1L712.8 297.0L713.2 294.7L712.9 303.3L712.9 303.9L712.9 283.1L713.2 256.3L712.8 465.2L712.6 458.9L713.3 480.5L713.5 525.1L713.5 266.7L715.4 290.3L714.9 212.2L715.5 279.0L715.0 459.2L715.4 459.3L714.9 471.4L715.2 503.2L715.0 479.5L715.4 481.0L716.1 267.3L716.3 457.7L716.4 479.3L717.2 278.1L717.3 264.8L717.4 494.4L716.9 474.1L718.0 302.4L717.6 257.9L717.5 460.2L717.5 461.4L718.3 489.7L718.3 492.8L718.5 294.6L718.8 247.8L719.3 504.6L719.4 498.8L719.4 476.6L719.2 475.1L721.5 306.1L720.9 294.0L721.1 455.8L721.3 455.9L720.5 467.0L720.9 491.0L722.0 280.2L722.8 300.8L722.6 286.5L722.8 458.0L724.4 450.3L723.9 488.7L724.7 483.4L724.9 467.2L724.8 487.0L726.1 300.1L726.3 263.0L725.5 504.5L725.9 459.5L725.5 493.3L725.6 462.3L727.2 300.0L726.6 298.4L727.2 227.2L726.5 465.6L728.2 253.6L728.1 450.8L728.2 456.0L728.0 529.8L727.7 470.1L728.3 473.0L727.7 478.2L729.3 303.6L728.9 280.7L729.0 266.2L728.7 458.1L729.5 456.1L729.0 459.5L728.6 463.5L730.3 284.8L730.2 284.1L730.4 232.0L730.5 285.0L730.3 453.6L729.8 455.6L730.4 461.2L730.5 308.2L730.7 265.0L731.4 482.6L731.9 302.2L732.0 294.8L732.3 454.5L732.3 458.3L732.9 252.2L732.9 455.7L732.8 484.9L733.0 479.7L734.0 300.7L733.6 451.4L734.3 466.6L734.2 479.7L734.9 300.4L734.8 275.1L735.1 452.6L736.2 303.3L736.2 281.6L735.6 240.1L737.7 296.2L737.8 287.7L738.3 285.9L739.1 273.6L738.6 299.4L738.9 289.5L739.3 449.5L740.4 308.6L740.2 308.2L739.6 310.5L740.0 287.8L740.2 296.5L739.7 239.5L739.8 242.4L740.4 483.5L739.8 504.3L741.2 302.6L740.7 288.3L740.8 299.7L740.6 448.4L741.0 450.5L741.9 306.4L741.6 309.0L742.0 310.5L742.1 305.8L742.3 294.6L742.2 297.9L742.1 295.0L741.6 470.9L743.3 305.3L743.1 308.6L743.0 311.0L742.6 299.6L742.8 458.7L743.4 491.2L744.2 241.6L744.0 294.4L744.2 269.5L744.1 448.6L744.1 510.2L744.7 290.9L744.7 296.9L745.1 456.0L746.1 230.0L746.3 282.6L746.5 282.8L746.3 281.4L745.9 520.5L746.3 459.8L746.6 235.5L746.6 301.0L747.4 452.5L747.0 450.0L748.2 309.9L748.4 309.4L747.6 309.5L747.8 301.7L747.7 302.2L747.8 455.4L748.3 509.1L749.5 305.0L748.7 282.7L749.4 296.4L749.0 285.4L749.4 289.3L749.3 297.4L748.9 225.7L749.3 456.7L750.4 287.7L750.1 448.2L751.0 306.2L751.0 305.7L750.7 298.5L750.6 291.5L750.9 292.1L750.8 449.6L751.2 462.7L751.7 310.1L752.2 300.0L751.7 277.1L752.4 286.0L752.3 449.2L751.8 449.0L752.6 302.3L752.5 304.2L753.1 291.5L753.3 453.7L753.8 301.9L753.7 229.2L753.8 286.3L755.1 297.9L755.2 484.6L756.0 304.9L756.1 289.8L755.6 295.5L756.1 459.1L755.9 478.7L757.1 307.3L757.2 303.1L756.9 267.7L757.3 296.8L756.7 280.1L757.4 270.6L757.4 272.3L758.3 300.3L757.5 482.3L758.5 466.7L758.1 464.9L758.6 225.6L759.9 293.8L760.1 288.6L760.5 274.7L759.9 291.5L759.9 279.9L760.3 451.8L760.1 497.3L760.7 296.6L760.5 477.8L762.4 264.6L762.5 454.0L763.3 241.4L762.9 460.1L763.0 454.2L763.2 466.3L764.1 294.0L764.2 280.3L764.9 284.1L764.9 226.7L764.8 458.4L765.5 466.4L766.4 248.7L765.8 494.5L766.4 466.4L766.9 267.9L767.5 479.2L767.6 212.7L768.3 497.4L769.4 293.8L768.8 293.2L768.5 291.8L769.3 269.3L770.4 294.2L770.1 263.9L769.7 277.1L769.7 506.4L770.3 530.0L771.4 253.8L771.0 467.0L770.6 475.4L770.7 486.7L771.2 483.3L771.4 485.7L772.1 295.1L772.4 287.8L772.1 259.2L771.7 471.5L771.8 478.0L772.9 285.6L772.6 231.8L773.2 465.8L774.1 289.6L773.7 499.9L774.5 490.8L773.8 476.5L774.3 503.4L775.1 473.6L774.7 492.7L775.1 480.8L775.3 532.9L774.9 495.4L776.4 283.2L775.7 288.9L776.2 286.1L776.5 275.1L775.8 261.7L776.4 266.8L776.4 481.9L776.4 489.5L777.3 207.8L777.1 482.8L777.4 506.0L777.7 288.6L778.2 285.8L778.0 272.5L778.2 476.7L777.6 490.0L777.5 483.2L777.7 504.2L779.7 286.5L780.2 214.1L780.9 488.0L781.2 507.9L782.3 281.6L781.8 274.0L782.5 480.8L782.3 482.4L782.2 504.9L783.2 288.6L783.3 503.4L783.3 484.8L783.1 517.8L782.7 506.1L784.1 242.0L784.4 275.5L784.4 273.7L783.8 220.6L784.0 483.4L784.5 488.2L784.4 489.4L784.6 243.3L784.9 250.3L785.4 476.5L786.7 283.8L786.6 269.6L787.4 494.0L787.0 489.9L788.3 286.2L787.9 250.7L787.9 483.9L787.6 484.9L788.2 489.5L788.3 491.0L789.1 248.1L788.9 276.4L789.5 247.5L789.0 261.2L788.6 228.0L789.2 490.0L790.3 286.8L789.7 269.2L789.7 272.1L790.1 485.9L790.4 488.7L791.1 274.5L791.1 485.6L792.5 260.5L792.0 262.4L791.7 260.6L792.0 250.3L791.9 265.0L792.2 483.1L791.7 484.1L792.5 490.2L793.1 271.7L793.0 272.9L793.1 245.3L793.0 264.7L792.5 492.2L793.5 519.5L792.8 515.4L794.3 242.6L793.5 499.6L793.6 519.3L794.5 510.8L794.0 507.5L794.9 197.7L795.3 260.0L795.2 270.0L795.4 512.0L797.3 256.7L797.2 493.1L796.9 494.0L796.6 512.4L797.9 280.8L797.7 256.8L797.5 489.4L798.8 278.5L798.6 267.4L798.6 212.5L798.7 508.2L799.1 502.7L800.3 272.3L799.8 266.8L799.8 494.2L800.5 504.5L801.5 275.5L800.6 230.6L801.5 500.0L801.2 504.2L802.1 282.5L802.3 503.1L802.9 283.5L803.0 279.6L803.1 255.0L803.3 494.3L804.5 283.1L803.9 277.7L803.9 279.5L804.0 245.4L804.4 246.5L804.3 499.0L804.8 275.9L804.7 264.1L804.7 273.6L805.0 275.0L805.1 493.1L805.6 285.2L805.8 281.8L805.9 281.0L806.0 275.1L805.9 491.6L806.1 485.9L806.5 283.1L806.6 277.7L807.2 260.0L806.9 271.7L806.9 274.0L806.7 234.8L807.2 240.3L806.8 489.1L808.1 266.3L808.3 241.3L808.4 263.3L808.1 260.6L808.7 281.8L809.4 503.8L809.1 536.7L810.1 287.2L809.6 279.7L810.0 504.4L811.3 282.7L810.6 277.2L811.0 523.7L812.4 274.9L812.5 269.0L812.0 501.8L812.6 227.3L813.9 533.4L815.4 289.5L815.0 271.2L815.9 484.8L815.9 497.2L816.0 498.4L817.1 288.6L817.3 286.4L817.3 263.5L816.9 277.2L817.4 496.5L817.7 283.7L818.2 265.2L818.1 274.3L817.9 260.6L818.3 264.1L819.3 292.0L818.9 263.0L819.1 277.2L819.4 249.8L819.8 245.0L820.1 273.7L820.4 254.4L819.7 498.2L820.7 253.1L820.7 249.2L821.3 477.6L821.5 495.8L822.1 281.8L822.8 292.3L822.6 288.8L822.9 227.5L823.0 281.5L823.4 282.0L822.6 475.3L823.1 520.0L824.1 260.2L823.7 263.8L824.4 258.6L824.1 267.5L824.5 262.9L824.1 479.3L824.4 508.3L823.7 499.8L824.7 250.0L825.3 282.7L824.7 482.1L824.7 515.5L826.0 293.3L826.2 267.7L826.4 252.1L825.9 248.4L826.2 473.6L826.1 501.4L826.4 502.1L827.1 268.0L827.4 285.5L828.3 238.6L827.7 280.3L828.2 278.2L828.1 509.2L828.7 274.4L828.8 512.4L830.3 247.5L830.1 253.8L830.0 267.4L830.0 249.6L830.3 476.8L829.5 537.0L830.0 483.2L831.3 294.2L831.3 284.8L830.7 282.4L832.1 288.3L832.4 282.2L832.1 474.1L832.5 488.3L832.4 496.7L833.2 262.5L833.2 280.2L832.8 491.3L833.2 480.4L833.9 298.0L833.8 288.0L833.9 245.5L833.5 497.8L835.2 277.6L834.7 289.7L835.3 469.0L835.4 489.8L835.2 500.3L835.2 479.3L836.0 289.1L836.4 258.4L836.1 476.6L836.4 477.6L835.7 509.5L836.1 483.8L836.9 474.5L837.2 501.4L838.4 254.2L837.6 280.3L838.3 280.2L838.6 302.7L839.6 300.9L839.6 288.8L839.7 269.1L839.9 267.0L839.8 482.2L840.0 516.6L839.6 512.3L841.1 300.0L840.6 285.2L841.0 492.5L842.2 293.8L841.6 287.1L841.8 492.8L843.0 300.0L843.3 299.5L842.6 295.2L842.9 474.4L843.4 470.4L842.9 484.5L844.0 300.7L844.2 277.8L844.2 282.5L844.2 270.5L844.1 505.8L844.5 520.6L843.6 497.3L844.9 304.9L845.0 280.9L844.8 470.9L844.6 484.2L845.2 507.7L845.5 302.0L846.3 300.6L845.5 288.1L845.6 293.9L846.2 499.6L846.6 470.4L846.9 470.1L847.0 515.1L847.2 481.2L848.1 293.1L848.4 281.4L848.4 285.6L847.9 248.9L848.4 479.1L848.2 506.1L848.4 485.3L847.9 498.0L848.7 261.9L849.0 286.8L848.6 263.9L849.0 504.1L849.0 498.8L849.7 293.8L850.2 477.1L850.0 502.4L849.6 487.1L851.1 305.4L850.5 288.0L851.4 275.5L850.8 257.3L850.8 293.2L851.4 481.5L850.9 490.6L851.5 295.2L852.0 293.9L851.9 471.8L851.5 476.2L851.7 511.8L853.1 307.5L853.4 270.5L853.2 283.4L853.1 264.0L852.5 296.1L853.9 306.4L853.8 289.1L853.9 255.5L854.2 504.0L854.0 495.4L854.9 301.8L855.2 301.1L854.9 293.6L855.1 472.8L854.7 491.7L855.0 483.6L855.6 305.6L856.4 287.2L856.5 474.3L855.5 471.6L856.7 290.3L857.5 481.5L856.6 496.9L856.8 482.5L857.6 307.6L858.2 297.7L858.1 271.1L858.2 297.1L858.0 478.3L858.4 491.7L857.6 495.7L859.1 279.4L859.0 281.7L858.8 479.1L858.6 473.9L858.9 489.2L859.2 485.1L859.4 506.4L860.0 293.5L859.6 258.0L859.5 511.3L860.6 309.6L860.9 302.9L860.6 477.4L860.9 506.9L861.8 473.9L862.3 507.7L861.6 508.2L863.2 308.4L862.8 482.2L862.8 502.2L864.5 299.4L864.3 478.8L864.0 502.5L865.1 296.4L865.1 297.8L864.6 477.8L865.4 537.0L865.8 312.0L865.6 292.6L865.8 508.0L867.3 315.7L867.0 512.2L866.9 502.1L868.2 313.3L868.0 476.7L867.5 492.1L868.0 501.3L868.4 485.8L868.5 297.2L869.4 289.2L869.2 477.4L869.0 486.0L868.7 491.4L869.9 311.3L869.5 297.0L869.5 288.0L870.4 479.6L870.3 479.7L870.4 485.1L870.0 508.4L870.5 303.4L870.6 262.5L872.0 309.8L872.4 311.5L872.2 309.9L872.5 297.8L872.4 262.3L871.7 496.7L873.3 474.5L873.5 507.2L872.7 499.5L873.1 489.2L873.3 487.0L874.1 312.6L874.2 290.9L874.5 303.4L874.2 545.4L874.1 489.3L875.4 316.1L875.4 307.1L875.2 280.0L874.8 497.6L876.4 316.0L876.4 308.4L875.5 299.8L876.1 493.4L875.9 528.6L876.6 473.1L877.3 475.7L876.6 508.1L878.4 319.5L877.9 287.8L878.3 472.6L878.0 480.8L877.8 482.4L877.5 484.9L877.8 508.8L878.2 484.0L879.6 271.2L880.2 480.1L880.1 506.7L880.0 491.7L879.9 488.0L881.2 290.7L881.2 509.4L881.3 502.2L881.6 321.8L882.3 473.6L882.5 496.8L882.0 489.2L882.8 312.9L882.6 305.4L882.5 471.2L882.6 510.2L882.8 501.2L884.0 317.9L883.7 276.1L884.3 477.7L884.1 484.1L884.8 319.9L885.4 301.4L884.7 484.4L886.2 305.3L886.0 500.4L885.6 494.4L887.2 309.5L887.2 471.5L886.8 509.7L888.3 318.1L887.8 528.5L888.4 478.8L888.6 317.7L888.9 310.7L888.9 288.2L888.8 499.6L889.0 494.8L890.2 305.8L889.8 267.1L890.1 315.9L889.9 304.7L890.1 490.6L890.4 498.0L889.9 501.6L890.2 497.0L889.7 506.0L891.3 320.1L891.3 327.7L891.0 325.8L891.2 483.0L892.4 530.0L892.6 273.8L893.3 493.0L893.3 537.3L892.9 480.9L894.4 329.4L894.1 290.9L894.4 472.0L894.1 475.0L894.8 500.4L896.0 325.2L895.6 484.8L897.2 464.7L896.8 472.8L897.7 490.2L898.5 325.6L898.9 321.4L898.7 313.0L898.7 303.7L899.2 484.6L899.6 301.9L900.0 473.1L901.3 326.7L901.3 305.7L901.1 465.1L901.4 501.6L901.6 326.8L901.7 310.2L902.7 331.5L903.3 334.0L902.7 332.0L903.5 310.0L902.7 472.0L902.8 492.4L903.6 497.1L905.0 334.2L904.9 328.3L904.7 328.1L904.8 327.3L904.6 309.1L905.3 462.7L905.0 474.1L904.8 508.1L905.8 334.8L906.5 333.4L906.5 320.9L906.2 302.4L906.3 318.7L906.1 477.9L907.1 328.2L906.8 337.4L906.8 320.3L908.2 336.8L907.5 302.5L907.6 298.1L907.9 498.7L895.9 425.5L895.9 416.1L896.0 466.1L896.0 391.7L895.9 387.8L895.6 453.1L895.6 370.0L895.8 467.5L896.9 437.7L897.4 463.6L896.7 429.8L896.9 325.4L897.2 415.1L897.2 451.8L897.2 421.5L896.8 465.2L897.0 355.8L898.0 338.1L898.4 386.2L897.6 354.0L897.6 372.8L898.4 452.3L897.6 452.1L897.8 454.2L898.4 456.8L898.1 432.2L898.5 441.5L898.7 334.3L899.4 405.6L899.5 355.3L899.0 385.8L898.8 471.1L898.8 422.5L898.7 390.8L899.0 401.2L899.0 423.8L900.2 357.4L899.7 465.9L900.1 386.0L900.1 422.1L900.8 389.7L900.6 370.7L900.6 427.0L900.6 407.7L901.5 405.6L900.6 348.1L900.9 386.9L901.3 329.6L900.7 405.3L901.1 449.4L902.1 366.7L902.4 410.1L901.7 461.9L902.2 408.2L902.5 333.0L902.0 328.8L901.8 386.8L902.3 410.7L902.4 356.0L901.8 352.5L903.2 326.1L902.7 434.2L903.2 361.6L902.9 428.5L903.4 412.3L903.3 412.1L903.1 349.8L903.4 421.4L904.4 407.4L903.8 441.9L903.8 329.5L903.6 423.2L903.6 338.3L903.9 442.0L904.1 427.4L904.9 423.8L904.6 329.4L905.3 451.4L904.6 354.0L904.5 404.3L905.8 348.3L906.1 467.6L906.2 441.3L906.0 360.7L905.7 400.4L906.2 332.1L906.0 354.5L906.3 403.4L907.3 410.0L907.4 381.5L907.4 329.1L907.4 468.0L906.8 377.0L907.2 382.9L906.7 344.0L907.2 396.2L906.8 468.7L906.5 470.7L908.4 402.5L907.7 351.6L907.8 407.7L908.2 398.6L155.6 457.8L155.6 461.1L155.6 462.9L155.6 466.3L155.6 467.5L155.6 469.8L155.6 473.9L155.6 474.8L155.6 479.0L155.6 479.8L155.6 482.1L155.6 485.5L155.6 488.7L155.6 490.6L155.6 493.8L155.6 495.1L155.6 498.4L155.6 500.8L155.6 502.2L155.6 505.5L155.6 508.8L155.6 510.2L155.6 512.8L155.6 515.7L155.6 517.2L155.6 519.5L155.6 523.3L155.6 526.3L155.6 527.3L155.6 530.8L155.6 532.1L155.6 535.9L155.6 538.0L155.6 540.5L155.6 543.1L155.6 545.2L155.6 548.2L155.6 551.3L155.6 552.5L155.6 555.6L155.6 558.3L155.6 559.9L155.6 563.7L155.6 564.9L155.6 568.0L155.6 570.5L155.6 573.2L155.6 574.6L155.6 579.0L155.6 580.6L155.6 583.8L155.6 585.8L155.6 588.1L155.6 590.5L155.6 593.9L155.6 594.8L155.6 598.8L155.6 601.2L155.6 602.7L155.6 604.9L155.6 607.6L155.6 609.5L155.6 612.5L155.6 615.6L155.6 618.0L155.6 620.8L155.6 623.7L155.6 625.6L155.6 627.4L155.6 630.6L155.6 632.4L155.6 637.0L155.6 641.0L155.6 645.0L155.6 650.0L155.6 655.0L155.6 660.0L198.6 529.1L183.3 560.0L191.6 532.4L192.7 533.9L185.8 551.9L189.3 506.8L178.7 498.6L191.6 530.1L199.0 531.9L178.7 547.0L184.3 558.6L194.5 491.0L192.7 514.2L188.4 504.5L197.3 553.0L190.0 503.4L189.0 525.8L195.6 547.1L179.6 555.4L187.1 567.1L192.6 535.0L199.5 527.8L191.9 536.8L194.3 512.0L192.7 540.1L196.1 492.4L186.3 535.1L185.1 558.6L183.3 499.4L199.6 508.6L190.3 502.9L189.1 509.6L197.0 501.1L186.5 513.1L191.0 538.7L183.4 500.8L197.7 552.7L199.5 547.5L199.0 518.1L195.7 513.5L197.3 532.9L188.6 555.1L191.8 563.3L186.1 568.7L197.2 520.9L177.7 534.8L190.4 496.3L198.0 523.1L197.8 545.8L198.3 515.4L183.6 494.0L183.8 549.1L184.8 537.8L195.3 520.0L187.0 514.5L187.0 546.6L195.5 603.8L196.9 604.3L193.6 626.7L196.6 622.1L200.8 601.0L192.7 611.5L199.2 601.4L196.5 604.9L192.0 605.7L194.9 579.5L199.8 597.8L192.8 585.3L192.6 606.4L192.5 587.1L172.0 636.2L188.8 593.3L174.8 579.8L183.1 613.2L166.7 589.0L188.8 599.1L188.2 591.0L170.7 502.3L165.4 505.2L164.7 519.0L167.8 518.1L168.7 501.7L162.1 533.3L160.8 491.5L164.1 497.3L164.2 521.9L170.3 502.9L169.5 490.2L170.4 529.7L196.0 471.4L190.4 487.2L198.5 467.2L194.7 463.1L193.6 445.6L199.4 439.2L195.3 453.6L195.0 447.1L196.1 469.8L199.8 447.9L168.6 487.0L177.6 484.5L184.0 479.4L185.3 464.0L187.8 466.5L182.7 460.0L190.4 453.7L193.0 457.5L198.0 440.8L196.8 425.4L199.4 390.7L203.3 383.0L198.1 449.8L181.0 591.0L186.0 594.0L183.6 615.0L176.4 624.7L198.0 616.0L217.0 179.5L433.9 114.4L458.6 111.0L447.1 152.8L451.0 166.0L499.3 151.4L524.9 153.7L337.7 172.7L349.3 167.9L356.9 175.4L368.5 184.8L406.9 171.8L414.7 175.9L418.3 173.1L391.1 190.5L397.3 194.2L418.3 196.7L414.7 201.3L410.6 206.3L401.0 209.7L418.3 217.0L420.2 226.4L437.5 193.5L445.3 198.5L478.0 183.2L489.4 180.0L493.3 172.7L501.1 195.3L514.3 199.2L489.4 211.1L462.7 225.9L483.7 225.9L441.4 230.7L301.3 211.1L345.4 215.7L519.0 223.4L524.9 212.0L213.0 233.6L207.0 253.0L254.0 240.0L265.0 243.0L276.0 247.0L292.0 241.0L315.2 233.6L329.2 230.4L342.4 233.2L374.0 230.0L388.0 228.8L402.0 230.0L873.6 56.0L604.6 99.6L570.1 132.9L748.5 99.2L762.2 92.5L752.6 122.9L788.8 134.5L829.5 131.6L835.0 136.6L894.4 143.3L892.7 193.2L780.9 162.4L800.4 169.9L806.7 178.6L808.8 183.6L837.0 167.0L852.4 179.9L748.9 191.9L840.4 199.0L847.0 201.5L796.3 201.9L798.5 200.5L681.5 173.6L693.6 162.8L700.2 164.5L531.0 153.7L574.2 165.3L583.4 177.4L588.0 167.4L597.1 157.4L608.8 152.0L612.9 148.7L608.3 167.8L629.5 173.2L627.9 185.7L639.5 187.8L614.6 189.0L625.8 201.9L619.6 211.9L593.4 210.6L599.6 198.2L602.9 202.3L579.6 201.5L570.1 195.7L551.0 206.5L534.3 199.0L531.0 212.7L577.6 219.0L593.0 230.6L636.6 221.4L628.3 224.0L664.0 214.0L677.0 208.6L691.5 217.3L697.0 211.5L718.1 206.5L710.6 217.7L713.1 227.7L718.1 226.0L689.0 230.6L704.4 232.3L777.6 216.9L821.6 214.0L837.4 229.8L841.6 233.5L867.8 245.1L868.2 251.4L886.9 261.8L879.4 267.6L872.8 273.8L898.6 288.0L884.4 289.6L745.1 275.9L734.7 243.9L746.0 234.3L746.0 239.3L757.6 242.7L766.3 241.8L779.6 232.3L792.1 227.3L253.0 240.2L264.6 243.4L276.1 246.5L291.9 241.3L270.9 251.8L282.4 254.9L294.0 254.9L266.7 260.2L281.4 259.1L289.8 264.4L264.6 272.8L273.0 277.0L283.5 274.9L289.8 289.6L268.8 289.6L302.4 285.4L310.8 292.7L206.8 298.0L215.2 287.5L221.5 292.7L222.6 304.3L240.4 304.3L315.0 233.9L318.1 238.1L328.6 230.8L343.3 233.9L344.4 239.2L336.0 253.9L345.4 249.7L359.0 239.2L361.1 247.6L328.6 263.3L373.7 230.8L384.2 229.7L392.6 230.8L405.2 227.6L384.2 253.9L401.0 251.8L796.8 202.4L778.0 216.1L786.3 222.4L799.0 218.2L809.4 220.3L822.0 214.0L824.1 224.5L836.7 228.7L841.0 233.9L780.0 231.8L794.7 228.7L805.2 235.0L811.5 239.2L796.8 241.3L824.1 243.4L830.4 239.2L845.1 249.7L845.1 256.0L868.2 245.5L868.2 251.8L861.9 262.3L887.1 261.2L878.7 268.6L677.2 208.7L664.6 214.0L696.1 211.9L710.8 217.1L718.1 206.6L718.1 226.6L708.7 228.7L689.8 216.1L677.2 220.3L665.6 221.3L700.3 241.3L689.8 230.8L673.0 237.1L664.6 243.4L652.0 235.0L649.9 256.0L655.1 260.2L640.4 256.0L534.4 199.3L551.2 206.6L570.1 195.5L579.5 201.4L593.2 210.8L599.5 199.3L612.1 197.2L614.2 188.8L626.8 202.4L620.5 211.9L577.4 219.2L560.6 227.6L549.1 227.6L530.2 211.9L572.2 230.8L589.0 230.8L606.8 237.1L628.9 222.4L637.3 221.3L637.3 238.1L155.6 336.7L155.6 368.8L155.6 371.5L155.6 390.7L155.6 398.4L155.6 415.1L155.6 426.7L155.6 440.8L155.6 451.1L171.0 385.0L177.0 391.0L175.0 409.0L183.0 410.0L188.0 418.0L179.0 440.0L184.0 449.0L197.0 424.0L201.0 392.0L205.0 383.0L207.0 298.0L215.0 288.0L221.0 294.0L220.0 304.0L219.0 312.0L233.0 310.0L240.0 305.0L247.0 314.0L209.0 325.0L224.0 328.0L155.6 678.0L155.6 711.2L174.0 706.0L172.0 660.0L176.0 675.2L186.0 651.2L208.8 676.0L211.2 654.0L217.2 664.0L219.2 667.2L224.4 648.8L245.2 644.0L259.2 646.0L289.2 657.2L349.2 655.2L268.0 624.0L270.0 630.8L320.8 614.0L332.0 612.0L368.0 612.0L408.8 614.0L470.0 620.8L303.2 594.8L313.2 594.0L359.2 599.2L378.0 590.0L389.2 584.8L424.0 574.0L456.8 564.8L288.8 596.0L255.2 612.0L246.0 607.2L526.0 567.6L349.0 588.0L363.0 574.0L318.0 574.0L246.0 734.0L173.0 661.0L172.0 670.0L177.6 675.6L175.0 705.6L209.0 676.0L543.0 545.0L574.0 552.0L606.6 550.6L658.0 548.0L689.0 540.0L714.0 545.6L743.0 536.6L751.0 528.0L760.6 561.4L799.0 581.6L781.0 537.4L791.0 533.4L799.0 531.0L831.0 528.0L866.0 540.0L871.6 550.0L876.6 540.0L899.0 532.6L530.0 567.0L631.4 541.6L641.0 538.0L665.0 542.0L681.4 532.0L555.6 537.6L626.0 682.8" class="rg"/></g>
<g clip-path="url(#clip)">
<path d="M155.6,575 160.3,570.6 165.1,566.1 169.8,561.7 174.5,557.2 179.2,552.8 184,548.3 188.7,543.9 193.4,539.5 198.1,535.1 202.9,530.8 207.6,526.4 212.3,522.2 217,517.9 221.8,513.8 226.5,509.6 231.2,505.6 235.9,501.6 240.7,497.6 245.4,493.8 250.1,490 254.8,486.3 259.6,482.7 264.3,479.1 269,475.7 273.8,472.3 278.5,469.1 283.2,465.9 287.9,462.8 292.7,459.8 297.4,456.9 302.1,454.2 306.8,451.5 311.6,448.9 316.3,446.4 321,443.9 325.7,441.6 330.5,439.3 335.2,437.2 339.9,435.1 344.6,433.1 349.4,431.2 354.1,429.3 358.8,427.5 363.5,425.8 368.3,424.1 373,422.5 377.7,420.9 382.4,419.4 387.2,418 391.9,416.6 396.6,415.2 401.4,413.9 406.1,412.6 410.8,411.3 415.5,410.1 420.3,408.9 425,407.7 429.7,406.6 434.4,405.4 439.2,404.4 443.9,403.3 448.6,402.3 453.3,401.3 458.1,400.3 462.8,399.3 467.5,398.4 472.2,397.5 477,396.6 481.7,395.8 486.4,395 491.1,394.2 495.9,393.4 500.6,392.6 505.3,391.9 510.1,391.2 514.8,390.5 519.5,389.8 524.2,389.2 529,388.5 533.7,387.9 538.4,387.4 543.1,386.8 547.9,386.3 552.6,385.7 557.3,385.2 562,384.8 566.8,384.3 571.5,383.9 576.2,383.5 580.9,383.1 585.7,382.8 590.4,382.4 595.1,382.1 599.8,381.8 604.6,381.6 609.3,381.3 614,381.1 618.7,380.9 623.5,380.7 628.2,380.6 632.9,380.4 637.7,380.3 642.4,380.2 647.1,380.2 651.8,380.1 656.6,380.1 661.3,380.1 666,380.1 670.7,380.1 675.5,380.2 680.2,380.2 684.9,380.3 689.6,380.4 694.4,380.5 699.1,380.7 703.8,380.8 708.5,381 713.3,381.2 718,381.3 722.7,381.5 727.4,381.7 732.2,381.9 736.9,382.1 741.6,382.3 746.4,382.5 751.1,382.8 755.8,383 760.5,383.2 765.3,383.4 770,383.5 774.7,383.7 779.4,383.9 784.2,384.1 788.9,384.3 793.6,384.5 798.3,384.7 803.1,384.9 807.8,385.1 812.5,385.3 817.2,385.5 822,385.7 826.7,385.9 831.4,386.1 836.1,386.3 840.9,386.6 845.6,386.8 850.3,387 855,387.3 859.8,387.5 864.5,387.8 869.2,388 874,388.3 878.7,388.5 883.4,388.8 888.1,389 892.9,389.3 897.6,389.5 902.3,389.8 907,390 907,406 902.3,405.8 897.6,405.6 892.9,405.5 888.1,405.3 883.4,405.1 878.7,404.9 874,404.7 869.2,404.5 864.5,404.3 859.8,404.1 855,403.9 850.3,403.7 845.6,403.5 840.9,403.3 836.1,403.1 831.4,402.9 826.7,402.7 822,402.5 817.2,402.3 812.5,402.1 807.8,401.9 803.1,401.7 798.3,401.5 793.6,401.3 788.9,401.2 784.2,401 779.4,400.8 774.7,400.6 770,400.5 765.3,400.3 760.5,400.2 755.8,400.1 751.1,399.9 746.4,399.8 741.6,399.7 736.9,399.6 732.2,399.5 727.4,399.5 722.7,399.4 718,399.3 713.3,399.3 708.5,399.3 703.8,399.3 699.1,399.3 694.4,399.3 689.6,399.3 684.9,399.4 680.2,399.5 675.5,399.6 670.7,399.7 666,399.8 661.3,399.9 656.6,400.1 651.8,400.3 647.1,400.4 642.4,400.6 637.7,400.8 632.9,401.1 628.2,401.3 623.5,401.5 618.7,401.8 614,402 609.3,402.3 604.6,402.5 599.8,402.8 595.1,403.1 590.4,403.4 585.7,403.8 580.9,404.1 576.2,404.5 571.5,405 566.8,405.4 562,405.9 557.3,406.4 552.6,407 547.9,407.6 543.1,408.2 538.4,408.9 533.7,409.6 529,410.4 524.2,411.2 519.5,412 514.8,412.8 510.1,413.7 505.3,414.6 500.6,415.5 495.9,416.5 491.1,417.4 486.4,418.4 481.7,419.3 477,420.3 472.2,421.3 467.5,422.3 462.8,423.3 458.1,424.3 453.3,425.3 448.6,426.3 443.9,427.4 439.2,428.4 434.4,429.5 429.7,430.6 425,431.7 420.3,432.8 415.5,433.9 410.8,435 406.1,436.1 401.4,437.3 396.6,438.4 391.9,439.6 387.2,440.8 382.4,442 377.7,443.2 373,444.5 368.3,445.8 363.5,447.1 358.8,448.5 354.1,449.9 349.4,451.4 344.6,452.9 339.9,454.4 335.2,456.1 330.5,457.8 325.7,459.5 321,461.4 316.3,463.3 311.6,465.3 306.8,467.4 302.1,469.6 297.4,471.9 292.7,474.3 287.9,476.9 283.2,479.5 278.5,482.3 273.8,485.2 269,488.2 264.3,491.4 259.6,494.6 254.8,498 250.1,501.6 245.4,505.2 240.7,509 235.9,512.9 231.2,516.9 226.5,521 221.8,525.2 217,529.5 212.3,533.9 207.6,538.4 202.9,543.1 198.1,547.8 193.4,552.6 188.7,557.4 184,562.4 179.2,567.4 174.5,572.5 169.8,577.7 165.1,582.8 160.3,588 155.6,593.2Z" fill="#000"/>
<path d="M155.6,492.5 160.3,491.3 165.1,490 169.8,488.8 174.5,487.6 179.2,486.4 184,485.2 188.7,484 193.4,482.9 198.1,481.7 202.9,480.6 207.6,479.6 212.3,478.5 217,477.5 221.8,476.6 226.5,475.6 231.2,474.7 235.9,473.8 240.7,472.9 245.4,472.1 250.1,471.3 254.8,470.5 259.6,469.7 264.3,469 269,468.2 273.8,467.5 278.5,466.8 283.2,466.1 287.9,465.4 292.7,464.8 297.4,464.1 302.1,463.5 306.8,462.8 311.6,462.2 316.3,461.6 321,461 325.7,460.4 330.5,459.9 335.2,459.3 339.9,458.7 344.6,458.2 349.4,457.6 354.1,457 358.8,456.5 363.5,455.9 368.3,455.4 373,454.8 377.7,454.3 382.4,453.7 387.2,453.2 391.9,452.6 396.6,452 401.4,451.4 406.1,450.8 410.8,450.2 415.5,449.5 420.3,448.9 425,448.2 429.7,447.5 434.4,446.8 439.2,446.1 443.9,445.4 448.6,444.6 453.3,443.8 458.1,443.1 462.8,442.3 467.5,441.5 472.2,440.6 477,439.8 481.7,439 486.4,438.1 491.1,437.2 495.9,436.4 500.6,435.5 505.3,434.6 510.1,433.6 514.8,432.7 519.5,431.8 524.2,430.9 529,430 533.7,429.1 538.4,428.2 543.1,427.3 547.9,426.4 552.6,425.5 557.3,424.6 562,423.8 566.8,423 571.5,422.1 576.2,421.3 580.9,420.5 585.7,419.7 590.4,418.9 595.1,418.1 599.8,417.3 604.6,416.6 609.3,415.8 614,415 618.7,414.3 623.5,413.6 628.2,412.8 632.9,412.1 637.7,411.4 642.4,410.7 647.1,410 651.8,409.4 656.6,408.8 661.3,408.2 666,407.6 670.7,407 675.5,406.5 680.2,406 684.9,405.6 689.6,405.2 694.4,404.8 699.1,404.5 703.8,404.2 708.5,403.9 713.3,403.6 718,403.4 722.7,403.2 727.4,403.1 732.2,402.9 736.9,402.8 741.6,402.7 746.4,402.6 751.1,402.6 755.8,402.5 760.5,402.5 765.3,402.5 770,402.5 774.7,402.5 779.4,402.6 784.2,402.6 788.9,402.7 793.6,402.8 798.3,402.8 803.1,402.9 807.8,403.1 812.5,403.2 817.2,403.3 822,403.5 826.7,403.6 831.4,403.8 836.1,403.9 840.9,404.1 845.6,404.3 850.3,404.4 855,404.6 859.8,404.8 864.5,405 869.2,405.2 874,405.4 878.7,405.6 883.4,405.8 888.1,406.1 892.9,406.3 897.6,406.5 902.3,406.7 907,406.9 907,421.5 902.3,421.1 897.6,420.8 892.9,420.4 888.1,420 883.4,419.7 878.7,419.4 874,419 869.2,418.7 864.5,418.4 859.8,418 855,417.7 850.3,417.4 845.6,417.2 840.9,416.9 836.1,416.6 831.4,416.4 826.7,416.1 822,415.9 817.2,415.7 812.5,415.5 807.8,415.3 803.1,415.1 798.3,415 793.6,414.9 788.9,414.8 784.2,414.7 779.4,414.6 774.7,414.5 770,414.5 765.3,414.4 760.5,414.4 755.8,414.4 751.1,414.5 746.4,414.5 741.6,414.6 736.9,414.7 732.2,414.8 727.4,415 722.7,415.1 718,415.3 713.3,415.5 708.5,415.8 703.8,416 699.1,416.3 694.4,416.6 689.6,417 684.9,417.3 680.2,417.7 675.5,418.2 670.7,418.6 666,419.1 661.3,419.6 656.6,420.1 651.8,420.6 647.1,421.2 642.4,421.8 637.7,422.4 632.9,423 628.2,423.6 623.5,424.2 618.7,424.9 614,425.6 609.3,426.3 604.6,427 599.8,427.7 595.1,428.4 590.4,429.1 585.7,429.9 580.9,430.7 576.2,431.4 571.5,432.3 566.8,433.1 562,433.9 557.3,434.8 552.6,435.7 547.9,436.5 543.1,437.5 538.4,438.4 533.7,439.4 529,440.3 524.2,441.3 519.5,442.3 514.8,443.3 510.1,444.3 505.3,445.3 500.6,446.3 495.9,447.3 491.1,448.2 486.4,449.2 481.7,450.1 477,451.1 472.2,452 467.5,452.9 462.8,453.8 458.1,454.7 453.3,455.5 448.6,456.4 443.9,457.2 439.2,458.1 434.4,458.9 429.7,459.7 425,460.5 420.3,461.2 415.5,462 410.8,462.7 406.1,463.4 401.4,464.1 396.6,464.8 391.9,465.4 387.2,466.1 382.4,466.8 377.7,467.4 373,468.1 368.3,468.7 363.5,469.4 358.8,470 354.1,470.7 349.4,471.4 344.6,472.1 339.9,472.8 335.2,473.5 330.5,474.2 325.7,475 321,475.8 316.3,476.5 311.6,477.3 306.8,478.1 302.1,479 297.4,479.8 292.7,480.7 287.9,481.6 283.2,482.5 278.5,483.4 273.8,484.3 269,485.3 264.3,486.3 259.6,487.3 254.8,488.3 250.1,489.3 245.4,490.4 240.7,491.4 235.9,492.6 231.2,493.7 226.5,494.8 221.8,496 217,497.3 212.3,498.5 207.6,499.8 202.9,501.1 198.1,502.5 193.4,503.8 188.7,505.2 184,506.6 179.2,508 174.5,509.4 169.8,510.9 165.1,512.4 160.3,513.8 155.6,515.3Z" fill="#f00"/>
<path d="M155.6,521 160.3,515.2 165.1,509.4 169.8,503.6 174.5,497.8 179.2,492.1 184,486.4 188.7,480.7 193.4,475 198.1,469.4 202.9,463.9 207.6,458.4 212.3,453 217,447.7 221.8,442.5 226.5,437.4 231.2,432.5 235.9,427.7 240.7,423.1 245.4,418.7 250.1,414.6 254.8,410.6 259.6,406.9 264.3,403.4 269,400.3 273.8,397.6 278.5,395.3 283.2,393.4 287.9,391.8 292.7,390.5 297.4,389.5 302.1,388.6 306.8,387.9 311.6,387.3 316.3,386.8 321,386.4 325.7,386 330.5,385.6 335.2,385.3 339.9,385 344.6,384.7 349.4,384.4 354.1,384.1 358.8,383.8 363.5,383.5 368.3,383.2 373,383 377.7,382.7 382.4,382.4 387.2,382.2 391.9,381.9 396.6,381.6 401.4,381.3 406.1,381 410.8,380.7 415.5,380.4 420.3,380 425,379.7 429.7,379.3 434.4,379 439.2,378.6 443.9,378.2 448.6,377.8 453.3,377.4 458.1,377 462.8,376.6 467.5,376.1 472.2,375.7 477,375.3 481.7,374.8 486.4,374.4 491.1,373.9 495.9,373.5 500.6,373.1 505.3,372.6 510.1,372.2 514.8,371.7 519.5,371.3 524.2,370.9 529,370.5 533.7,370 538.4,369.6 543.1,369.3 547.9,368.9 552.6,368.5 557.3,368.1 562,367.8 566.8,367.4 571.5,367.1 576.2,366.8 580.9,366.5 585.7,366.1 590.4,365.8 595.1,365.5 599.8,365.2 604.6,364.9 609.3,364.6 614,364.3 618.7,364 623.5,363.7 628.2,363.5 632.9,363.2 637.7,362.9 642.4,362.6 647.1,362.3 651.8,362.1 656.6,361.8 661.3,361.6 666,361.4 670.7,361.2 675.5,361 680.2,360.8 684.9,360.7 689.6,360.6 694.4,360.5 699.1,360.4 703.8,360.3 708.5,360.3 713.3,360.2 718,360.2 722.7,360.2 727.4,360.3 732.2,360.3 736.9,360.4 741.6,360.4 746.4,360.5 751.1,360.6 755.8,360.7 760.5,360.8 765.3,361 770,361.1 774.7,361.3 779.4,361.4 784.2,361.6 788.9,361.8 793.6,362 798.3,362.2 803.1,362.4 807.8,362.6 812.5,362.8 817.2,363 822,363.2 826.7,363.4 831.4,363.6 836.1,363.8 840.9,364 845.6,364.2 850.3,364.5 855,364.7 859.8,364.9 864.5,365.1 869.2,365.3 874,365.5 878.7,365.7 883.4,366 888.1,366.2 892.9,366.4 897.6,366.6 902.3,366.8 907,367 907,383.9 902.3,383.6 897.6,383.2 892.9,382.8 888.1,382.5 883.4,382.1 878.7,381.8 874,381.4 869.2,381.1 864.5,380.8 859.8,380.5 855,380.2 850.3,379.9 845.6,379.6 840.9,379.3 836.1,379 831.4,378.8 826.7,378.5 822,378.3 817.2,378.1 812.5,377.9 807.8,377.7 803.1,377.5 798.3,377.3 793.6,377.2 788.9,377 784.2,376.9 779.4,376.7 774.7,376.6 770,376.5 765.3,376.4 760.5,376.3 755.8,376.2 751.1,376.1 746.4,376 741.6,375.9 736.9,375.9 732.2,375.8 727.4,375.8 722.7,375.8 718,375.8 713.3,375.8 708.5,375.9 703.8,375.9 699.1,376 694.4,376.2 689.6,376.3 684.9,376.5 680.2,376.7 675.5,377 670.7,377.3 666,377.6 661.3,377.9 656.6,378.3 651.8,378.6 647.1,379 642.4,379.4 637.7,379.8 632.9,380.2 628.2,380.6 623.5,381 618.7,381.4 614,381.8 609.3,382.2 604.6,382.5 599.8,382.9 595.1,383.3 590.4,383.6 585.7,384 580.9,384.4 576.2,384.7 571.5,385.1 566.8,385.5 562,385.9 557.3,386.3 552.6,386.7 547.9,387.1 543.1,387.5 538.4,388 533.7,388.4 529,388.9 524.2,389.4 519.5,389.9 514.8,390.4 510.1,390.8 505.3,391.3 500.6,391.8 495.9,392.3 491.1,392.8 486.4,393.3 481.7,393.7 477,394.2 472.2,394.6 467.5,395.1 462.8,395.5 458.1,395.9 453.3,396.3 448.6,396.7 443.9,397 439.2,397.4 434.4,397.7 429.7,398 425,398.4 420.3,398.6 415.5,398.9 410.8,399.2 406.1,399.4 401.4,399.6 396.6,399.8 391.9,400.1 387.2,400.3 382.4,400.5 377.7,400.7 373,400.9 368.3,401.1 363.5,401.4 358.8,401.6 354.1,401.9 349.4,402.1 344.6,402.4 339.9,402.8 335.2,403.1 330.5,403.5 325.7,403.9 321,404.3 316.3,404.9 311.6,405.5 306.8,406.2 302.1,407.1 297.4,408.2 292.7,409.5 287.9,411 283.2,412.8 278.5,414.9 273.8,417.2 269,419.8 264.3,422.6 259.6,425.7 254.8,429.1 250.1,432.7 245.4,436.5 240.7,440.6 235.9,444.9 231.2,449.4 226.5,454 221.8,458.9 217,463.9 212.3,469.2 207.6,474.5 202.9,480.1 198.1,485.8 193.4,491.6 188.7,497.5 184,503.5 179.2,509.6 174.5,515.7 169.8,521.9 165.1,528.2 160.3,534.5 155.6,540.7Z" fill="#00cd00"/>
<path d="M155.6,597.4 160.3,587.9 165.1,578.4 169.8,569 174.5,559.6 179.2,550.2 184,540.9 188.7,531.7 193.4,522.5 198.1,513.5 202.9,504.5 207.6,495.7 212.3,487 217,478.4 221.8,469.9 226.5,461.6 231.2,453.5 235.9,445.5 240.7,437.8 245.4,430.2 250.1,422.9 254.8,415.8 259.6,409.1 264.3,402.6 269,396.5 273.8,390.7 278.5,385.3 283.2,380.1 287.9,375.2 292.7,370.6 297.4,366.4 302.1,362.4 306.8,358.8 311.6,355.4 316.3,352.3 321,349.5 325.7,346.9 330.5,344.5 335.2,342.4 339.9,340.5 344.6,338.7 349.4,337.1 354.1,335.6 358.8,334.3 363.5,333.1 368.3,332 373,330.9 377.7,329.9 382.4,329 387.2,328.1 391.9,327.3 396.6,326.6 401.4,325.9 406.1,325.2 410.8,324.6 415.5,324 420.3,323.4 425,322.9 429.7,322.4 434.4,321.9 439.2,321.4 443.9,321 448.6,320.5 453.3,320.1 458.1,319.7 462.8,319.4 467.5,319 472.2,318.6 477,318.3 481.7,318 486.4,317.7 491.1,317.4 495.9,317.1 500.6,316.8 505.3,316.5 510.1,316.2 514.8,315.9 519.5,315.7 524.2,315.4 529,315.2 533.7,314.9 538.4,314.7 543.1,314.6 547.9,314.4 552.6,314.3 557.3,314.1 562,314 566.8,313.9 571.5,313.9 576.2,313.8 580.9,313.8 585.7,313.8 590.4,313.8 595.1,313.8 599.8,313.9 604.6,313.9 609.3,314 614,314.1 618.7,314.2 623.5,314.3 628.2,314.4 632.9,314.5 637.7,314.7 642.4,314.9 647.1,315.1 651.8,315.3 656.6,315.5 661.3,315.7 666,315.9 670.7,316.2 675.5,316.4 680.2,316.7 684.9,317 689.6,317.3 694.4,317.6 699.1,317.9 703.8,318.3 708.5,318.6 713.3,319 718,319.4 722.7,319.8 727.4,320.2 732.2,320.6 736.9,321 741.6,321.5 746.4,321.9 751.1,322.4 755.8,322.9 760.5,323.4 765.3,324 770,324.5 774.7,325.1 779.4,325.6 784.2,326.2 788.9,326.8 793.6,327.3 798.3,327.9 803.1,328.5 807.8,329.1 812.5,329.6 817.2,330.2 822,330.8 826.7,331.3 831.4,331.8 836.1,332.4 840.9,332.9 845.6,333.4 850.3,333.9 855,334.4 859.8,334.8 864.5,335.3 869.2,335.8 874,336.3 878.7,336.7 883.4,337.2 888.1,337.7 892.9,338.1 897.6,338.6 902.3,339.1 907,339.5 907,361.9 902.3,361.2 897.6,360.5 892.9,359.8 888.1,359.1 883.4,358.4 878.7,357.7 874,357 869.2,356.3 864.5,355.6 859.8,355 855,354.3 850.3,353.6 845.6,352.9 840.9,352.3 836.1,351.6 831.4,350.9 826.7,350.3 822,349.6 817.2,349 812.5,348.4 807.8,347.7 803.1,347.1 798.3,346.5 793.6,345.9 788.9,345.3 784.2,344.7 779.4,344.1 774.7,343.6 770,343.1 765.3,342.5 760.5,342 755.8,341.6 751.1,341.1 746.4,340.7 741.6,340.2 736.9,339.8 732.2,339.4 727.4,339.1 722.7,338.7 718,338.3 713.3,338 708.5,337.6 703.8,337.3 699.1,337 694.4,336.7 689.6,336.3 684.9,336 680.2,335.7 675.5,335.4 670.7,335.1 666,334.8 661.3,334.5 656.6,334.2 651.8,333.9 647.1,333.7 642.4,333.4 637.7,333.2 632.9,332.9 628.2,332.7 623.5,332.6 618.7,332.4 614,332.3 609.3,332.2 604.6,332.1 599.8,332.1 595.1,332 590.4,332 585.7,332.1 580.9,332.1 576.2,332.2 571.5,332.3 566.8,332.4 562,332.6 557.3,332.8 552.6,333 547.9,333.2 543.1,333.5 538.4,333.8 533.7,334.1 529,334.4 524.2,334.8 519.5,335.2 514.8,335.6 510.1,336 505.3,336.4 500.6,336.8 495.9,337.3 491.1,337.7 486.4,338.2 481.7,338.7 477,339.2 472.2,339.7 467.5,340.3 462.8,340.9 458.1,341.5 453.3,342.2 448.6,342.8 443.9,343.6 439.2,344.3 434.4,345.1 429.7,346 425,346.9 420.3,347.8 415.5,348.8 410.8,349.9 406.1,351 401.4,352.1 396.6,353.3 391.9,354.6 387.2,355.8 382.4,357.2 377.7,358.6 373,360 368.3,361.5 363.5,363 358.8,364.7 354.1,366.4 349.4,368.2 344.6,370.2 339.9,372.3 335.2,374.5 330.5,376.9 325.7,379.6 321,382.4 316.3,385.5 311.6,388.8 306.8,392.4 302.1,396.3 297.4,400.3 292.7,404.6 287.9,409.2 283.2,414 278.5,419 273.8,424.4 269,430 264.3,436 259.6,442.3 254.8,448.9 250.1,455.8 245.4,462.9 240.7,470.2 235.9,477.8 231.2,485.5 226.5,493.4 221.8,501.5 217,509.7 212.3,518 207.6,526.4 202.9,534.9 198.1,543.5 193.4,552.2 188.7,560.9 184,569.6 179.2,578.4 174.5,587.3 169.8,596.1 165.1,605 160.3,613.9 155.6,622.8Z" fill="#00f"/>
<path d="M155.6,631.1 214,574.5 272.4,520.1 330.8,496.5 389.2,485.3 447.6,479.2 506,476.4 564.5,476.1 622.9,477.8 681.3,480.8 739.7,484.7 798.1,488.8 856.5,493.1 914.9,497.3 973.3,501.3 1031.7,505.2" class="ds"/>
<path d="M155.6,550.7 214,486 272.4,428 330.8,403.6 389.2,392.7 447.6,387.1 506,384.9 564.5,385.5 622.9,388.2 681.3,392.4 739.7,397.3 798.1,402.6 856.5,407.9 914.9,413.1 973.3,418.1 1031.7,422.9" class="ds"/>
<path d="M155.6,451.9 214,387.3 272.4,323.5 330.8,296.9 389.2,285.3 447.6,279.5 506,277.5 564.5,278.5 622.9,281.9 681.3,286.9 739.7,292.8 798.1,299 856.5,305.2 914.9,311.4 973.3,317.3 1031.7,322.9" class="ds"/>
<path d="M155.6,632.8 214,593.4 272.4,547.3 330.8,524.2 389.2,511.4 447.6,504.1 506,500.6 564.5,500 622.9,501.6 681.3,504.6 739.7,508.5 798.1,512.7 856.5,517.1 914.9,521.2 973.3,525.2 1031.7,528.9" class="dt"/>
<path d="M155.6,553.7 214,501.8 272.4,451.3 330.8,426.4 389.2,413.2 447.6,406.2 506,403.2 564.5,403.5 622.9,406.1 681.3,410.3 739.7,415.4 798.1,420.9 856.5,426.5 914.9,431.7 973.3,436.7 1031.7,441.4" class="dt"/>
<path d="M155.6,460.6 214,400.3 272.4,342.1 330.8,313.7 389.2,298.8 447.6,290.9 506,287.8 564.5,288.3 622.9,291.6 681.3,296.7 739.7,302.9 798.1,309.4 856.5,316 914.9,322.3 973.3,328.2 1031.7,333.8" class="dt1"/>
</g>
<rect x="648" y="594" width="288.4" height="168.8" class="lg"/>
<text x="792" y="622.6" class="tl" text-anchor="middle">BMI trajectories</text>
<path d="M669.2,650.0H710.6" stroke="#000" stroke-width="5.5" stroke-linecap="round"/>
<text x="732.3" y="659.0" class="tl">1: n=1085 (30.8%)</text>
<path d="M669.2,678.2H710.6" stroke="#f00" stroke-width="5.5" stroke-linecap="round"/>
<text x="732.3" y="687.2" class="tl">2: n=1020 (28.9%)</text>
<path d="M669.2,706.4H710.6" stroke="#00cd00" stroke-width="5.5" stroke-linecap="round"/>
<text x="732.3" y="715.4" class="tl">3: n=967 (27.4%)</text>
<path d="M669.2,734.6H710.6" stroke="#00f" stroke-width="5.5" stroke-linecap="round"/>
<text x="732.3" y="743.6" class="tl">4: n=453 (12.9%)</text>
<rect x="125.5" y="36.0" width="810.9" height="726.8" class="bx"/>
<path d="M155.6,762.8V777.8" class="tk"/>
<text x="155.6" y="814.4" class="tl" text-anchor="middle">0.0</text>
<path d="M295.8,762.8V777.8" class="tk"/>
<text x="295.8" y="814.4" class="tl" text-anchor="middle">0.2</text>
<path d="M436.0,762.8V777.8" class="tk"/>
<text x="436.0" y="814.4" class="tl" text-anchor="middle">0.4</text>
<path d="M576.1,762.8V777.8" class="tk"/>
<text x="576.1" y="814.4" class="tl" text-anchor="middle">0.6</text>
<path d="M716.3,762.8V777.8" class="tk"/>
<text x="716.3" y="814.4" class="tl" text-anchor="middle">0.8</text>
<path d="M856.5,762.8V777.8" class="tk"/>
<text x="856.5" y="814.4" class="tl" text-anchor="middle">1.0</text>
<path d="M125.5,694.2H110.5" class="tk"/>
<text transform="translate(92.2,694.2) rotate(-90)" class="tl" text-anchor="middle">10</text>
<path d="M125.5,483.6H110.5" class="tk"/>
<text transform="translate(92.2,483.6) rotate(-90)" class="tl" text-anchor="middle">15</text>
<path d="M125.5,273.0H110.5" class="tk"/>
<text transform="translate(92.2,273.0) rotate(-90)" class="tl" text-anchor="middle">20</text>
<path d="M125.5,62.4H110.5" class="tk"/>
<text transform="translate(92.2,62.4) rotate(-90)" class="tl" text-anchor="middle">25</text>
<text x="531.0" y="870" class="tl" text-anchor="middle">Age (years)</text>
<text transform="translate(35.7,399.4) rotate(-90)" class="tl" text-anchor="middle">BMI</text>
</g>
<g transform="translate(1015.2,0)">
<use href="#sc"/>
<g clip-path="url(#clip)">
<path d="M155.6,575 160.3,570.7 165.1,566.3 169.8,561.9 174.5,557.5 179.2,553.2 184,548.8 188.7,544.4 193.4,540.1 198.1,535.8 202.9,531.5 207.6,527.3 212.3,523.1 217,518.9 221.8,514.8 226.5,510.8 231.2,506.8 235.9,502.9 240.7,499 245.4,495.3 250.1,491.6 254.8,488 259.6,484.4 264.3,481 269,477.7 273.8,474.4 278.5,471.3 283.2,468.2 287.9,465.3 292.7,462.4 297.4,459.6 302.1,457 306.8,454.4 311.6,451.9 316.3,449.6 321,447.3 325.7,445.1 330.5,442.9 335.2,440.9 339.9,438.9 344.6,437 349.4,435.2 354.1,433.5 358.8,431.8 363.5,430.1 368.3,428.6 373,427 377.7,425.6 382.4,424.1 387.2,422.7 391.9,421.4 396.6,420 401.4,418.7 406.1,417.5 410.8,416.2 415.5,415 420.3,413.7 425,412.5 429.7,411.3 434.4,410.2 439.2,409 443.9,407.9 448.6,406.8 453.3,405.7 458.1,404.6 462.8,403.6 467.5,402.6 472.2,401.6 477,400.6 481.7,399.7 486.4,398.7 491.1,397.9 495.9,397 500.6,396.2 505.3,395.4 510.1,394.6 514.8,393.8 519.5,393.1 524.2,392.4 529,391.8 533.7,391.1 538.4,390.5 543.1,389.9 547.9,389.3 552.6,388.8 557.3,388.3 562,387.8 566.8,387.3 571.5,386.9 576.2,386.5 580.9,386.1 585.7,385.7 590.4,385.4 595.1,385.1 599.8,384.8 604.6,384.6 609.3,384.3 614,384.1 618.7,384 623.5,383.8 628.2,383.7 632.9,383.6 637.7,383.6 642.4,383.5 647.1,383.5 651.8,383.5 656.6,383.5 661.3,383.6 666,383.6 670.7,383.7 675.5,383.8 680.2,383.9 684.9,384 689.6,384.1 694.4,384.3 699.1,384.4 703.8,384.6 708.5,384.8 713.3,384.9 718,385.1 722.7,385.3 727.4,385.5 732.2,385.7 736.9,385.8 741.6,386 746.4,386.2 751.1,386.4 755.8,386.6 760.5,386.7 765.3,386.9 770,387 774.7,387.2 779.4,387.3 784.2,387.5 788.9,387.6 793.6,387.8 798.3,387.9 803.1,388 807.8,388.2 812.5,388.3 817.2,388.5 822,388.6 826.7,388.8 831.4,388.9 836.1,389.1 840.9,389.3 845.6,389.4 850.3,389.6 855,389.8 859.8,390 864.5,390.2 869.2,390.4 874,390.6 878.7,390.8 883.4,390.9 888.1,391.1 892.9,391.3 897.6,391.5 902.3,391.7 907,391.9 907,406 902.3,405.8 897.6,405.6 892.9,405.5 888.1,405.3 883.4,405.1 878.7,404.9 874,404.7 869.2,404.5 864.5,404.3 859.8,404.1 855,403.9 850.3,403.7 845.6,403.5 840.9,403.3 836.1,403.1 831.4,402.9 826.7,402.7 822,402.5 817.2,402.3 812.5,402.1 807.8,401.9 803.1,401.7 798.3,401.5 793.6,401.3 788.9,401.2 784.2,401 779.4,400.8 774.7,400.6 770,400.5 765.3,400.3 760.5,400.2 755.8,400.1 751.1,399.9 746.4,399.8 741.6,399.7 736.9,399.6 732.2,399.5 727.4,399.5 722.7,399.4 718,399.3 713.3,399.3 708.5,399.3 703.8,399.3 699.1,399.3 694.4,399.3 689.6,399.3 684.9,399.4 680.2,399.5 675.5,399.6 670.7,399.7 666,399.8 661.3,399.9 656.6,400.1 651.8,400.3 647.1,400.4 642.4,400.6 637.7,400.8 632.9,401.1 628.2,401.3 623.5,401.5 618.7,401.8 614,402 609.3,402.3 604.6,402.5 599.8,402.8 595.1,403.1 590.4,403.4 585.7,403.8 580.9,404.1 576.2,404.5 571.5,405 566.8,405.4 562,405.9 557.3,406.4 552.6,407 547.9,407.6 543.1,408.2 538.4,408.9 533.7,409.6 529,410.4 524.2,411.2 519.5,412 514.8,412.8 510.1,413.7 505.3,414.6 500.6,415.5 495.9,416.5 491.1,417.4 486.4,418.4 481.7,419.3 477,420.3 472.2,421.3 467.5,422.3 462.8,423.3 458.1,424.3 453.3,425.3 448.6,426.3 443.9,427.4 439.2,428.4 434.4,429.5 429.7,430.6 425,431.7 420.3,432.8 415.5,433.9 410.8,435 406.1,436.1 401.4,437.3 396.6,438.4 391.9,439.6 387.2,440.8 382.4,442 377.7,443.2 373,444.5 368.3,445.8 363.5,447.1 358.8,448.5 354.1,449.9 349.4,451.4 344.6,452.9 339.9,454.4 335.2,456.1 330.5,457.8 325.7,459.5 321,461.4 316.3,463.3 311.6,465.3 306.8,467.4 302.1,469.6 297.4,471.9 292.7,474.3 287.9,476.9 283.2,479.5 278.5,482.3 273.8,485.2 269,488.2 264.3,491.4 259.6,494.6 254.8,498 250.1,501.6 245.4,505.2 240.7,509 235.9,512.9 231.2,516.9 226.5,521 221.8,525.2 217,529.5 212.3,533.9 207.6,538.4 202.9,543.1 198.1,547.8 193.4,552.6 188.7,557.4 184,562.4 179.2,567.4 174.5,572.5 169.8,577.7 165.1,582.8 160.3,588 155.6,593.2Z" fill="#000"/>
<path d="M155.6,492.5 160.3,491.3 165.1,490 169.8,488.8 174.5,487.6 179.2,486.4 184,485.2 188.7,484 193.4,482.9 198.1,481.7 202.9,480.6 207.6,479.6 212.3,478.5 217,477.5 221.8,476.6 226.5,475.6 231.2,474.7 235.9,473.8 240.7,472.9 245.4,472.1 250.1,471.3 254.8,470.5 259.6,469.7 264.3,469 269,468.2 273.8,467.5 278.5,466.8 283.2,466.1 287.9,465.4 292.7,464.8 297.4,464.1 302.1,463.5 306.8,462.8 311.6,462.2 316.3,461.6 321,461 325.7,460.4 330.5,459.9 335.2,459.3 339.9,458.7 344.6,458.2 349.4,457.6 354.1,457 358.8,456.5 363.5,455.9 368.3,455.4 373,454.8 377.7,454.3 382.4,453.7 387.2,453.2 391.9,452.6 396.6,452 401.4,451.4 406.1,450.8 410.8,450.2 415.5,449.5 420.3,448.9 425,448.2 429.7,447.5 434.4,446.8 439.2,446.1 443.9,445.4 448.6,444.6 453.3,443.8 458.1,443.1 462.8,442.3 467.5,441.5 472.2,440.6 477,439.8 481.7,439 486.4,438.1 491.1,437.2 495.9,436.4 500.6,435.5 505.3,434.6 510.1,433.6 514.8,432.7 519.5,431.8 524.2,430.9 529,430 533.7,429.1 538.4,428.2 543.1,427.3 547.9,426.4 552.6,425.5 557.3,424.6 562,423.8 566.8,423 571.5,422.1 576.2,421.3 580.9,420.5 585.7,419.7 590.4,418.9 595.1,418.1 599.8,417.3 604.6,416.6 609.3,415.8 614,415 618.7,414.3 623.5,413.6 628.2,412.8 632.9,412.1 637.7,411.4 642.4,410.7 647.1,410 651.8,409.4 656.6,408.8 661.3,408.2 666,407.6 670.7,407 675.5,406.5 680.2,406 684.9,405.6 689.6,405.2 694.4,404.8 699.1,404.5 703.8,404.2 708.5,403.9 713.3,403.6 718,403.4 722.7,403.2 727.4,403.1 732.2,402.9 736.9,402.8 741.6,402.7 746.4,402.6 751.1,402.6 755.8,402.5 760.5,402.5 765.3,402.5 770,402.5 774.7,402.5 779.4,402.6 784.2,402.6 788.9,402.7 793.6,402.8 798.3,402.8 803.1,402.9 807.8,403.1 812.5,403.2 817.2,403.3 822,403.5 826.7,403.6 831.4,403.8 836.1,403.9 840.9,404.1 845.6,404.3 850.3,404.4 855,404.6 859.8,404.8 864.5,405 869.2,405.2 874,405.4 878.7,405.6 883.4,405.8 888.1,406.1 892.9,406.3 897.6,406.5 902.3,406.7 907,406.9 907,421.5 902.3,421.1 897.6,420.8 892.9,420.4 888.1,420 883.4,419.7 878.7,419.4 874,419 869.2,418.7 864.5,418.4 859.8,418 855,417.7 850.3,417.4 845.6,417.2 840.9,416.9 836.1,416.6 831.4,416.4 826.7,416.1 822,415.9 817.2,415.7 812.5,415.5 807.8,415.3 803.1,415.1 798.3,415 793.6,414.9 788.9,414.8 784.2,414.7 779.4,414.6 774.7,414.5 770,414.5 765.3,414.4 760.5,414.4 755.8,414.4 751.1,414.5 746.4,414.5 741.6,414.6 736.9,414.7 732.2,414.8 727.4,415 722.7,415.1 718,415.3 713.3,415.5 708.5,415.8 703.8,416 699.1,416.3 694.4,416.6 689.6,417 684.9,417.3 680.2,417.7 675.5,418.2 670.7,418.6 666,419.1 661.3,419.6 656.6,420.1 651.8,420.6 647.1,421.2 642.4,421.8 637.7,422.4 632.9,423 628.2,423.6 623.5,424.2 618.7,424.9 614,425.6 609.3,426.3 604.6,427 599.8,427.7 595.1,428.4 590.4,429.1 585.7,429.9 580.9,430.7 576.2,431.4 571.5,432.3 566.8,433.1 562,433.9 557.3,434.8 552.6,435.7 547.9,436.5 543.1,437.5 538.4,438.4 533.7,439.4 529,440.3 524.2,441.3 519.5,442.3 514.8,443.3 510.1,444.3 505.3,445.3 500.6,446.3 495.9,447.3 491.1,448.2 486.4,449.2 481.7,450.1 477,451.1 472.2,452 467.5,452.9 462.8,453.8 458.1,454.7 453.3,455.5 448.6,456.4 443.9,457.2 439.2,458.1 434.4,458.9 429.7,459.7 425,460.5 420.3,461.2 415.5,462 410.8,462.7 406.1,463.4 401.4,464.1 396.6,464.8 391.9,465.4 387.2,466.1 382.4,466.8 377.7,467.4 373,468.1 368.3,468.7 363.5,469.4 358.8,470 354.1,470.7 349.4,471.4 344.6,472.1 339.9,472.8 335.2,473.5 330.5,474.2 325.7,475 321,475.8 316.3,476.5 311.6,477.3 306.8,478.1 302.1,479 297.4,479.8 292.7,480.7 287.9,481.6 283.2,482.5 278.5,483.4 273.8,484.3 269,485.3 264.3,486.3 259.6,487.3 254.8,488.3 250.1,489.3 245.4,490.4 240.7,491.4 235.9,492.6 231.2,493.7 226.5,494.8 221.8,496 217,497.3 212.3,498.5 207.6,499.8 202.9,501.1 198.1,502.5 193.4,503.8 188.7,505.2 184,506.6 179.2,508 174.5,509.4 169.8,510.9 165.1,512.4 160.3,513.8 155.6,515.3Z" fill="#f00"/>
<path d="M155.6,521 160.3,515.2 165.1,509.4 169.8,503.6 174.5,497.8 179.2,492.1 184,486.4 188.7,480.7 193.4,475 198.1,469.4 202.9,463.9 207.6,458.4 212.3,453 217,447.7 221.8,442.5 226.5,437.4 231.2,432.5 235.9,427.7 240.7,423.1 245.4,418.7 250.1,414.6 254.8,410.6 259.6,406.9 264.3,403.4 269,400.3 273.8,397.6 278.5,395.3 283.2,393.4 287.9,391.8 292.7,390.5 297.4,389.5 302.1,388.6 306.8,387.9 311.6,387.3 316.3,386.8 321,386.4 325.7,386 330.5,385.6 335.2,385.3 339.9,385 344.6,384.7 349.4,384.4 354.1,384.1 358.8,383.8 363.5,383.5 368.3,383.2 373,383 377.7,382.7 382.4,382.4 387.2,382.2 391.9,381.9 396.6,381.6 401.4,381.3 406.1,381 410.8,380.7 415.5,380.4 420.3,380 425,379.7 429.7,379.3 434.4,379 439.2,378.6 443.9,378.2 448.6,377.8 453.3,377.4 458.1,377 462.8,376.6 467.5,376.1 472.2,375.7 477,375.3 481.7,374.8 486.4,374.4 491.1,373.9 495.9,373.5 500.6,373.1 505.3,372.6 510.1,372.2 514.8,371.7 519.5,371.3 524.2,370.9 529,370.5 533.7,370 538.4,369.6 543.1,369.3 547.9,368.9 552.6,368.5 557.3,368.1 562,367.8 566.8,367.4 571.5,367.1 576.2,366.8 580.9,366.5 585.7,366.1 590.4,365.8 595.1,365.5 599.8,365.2 604.6,364.9 609.3,364.6 614,364.3 618.7,364 623.5,363.7 628.2,363.5 632.9,363.2 637.7,362.9 642.4,362.6 647.1,362.3 651.8,362.1 656.6,361.8 661.3,361.6 666,361.4 670.7,361.2 675.5,361 680.2,360.8 684.9,360.7 689.6,360.6 694.4,360.5 699.1,360.4 703.8,360.3 708.5,360.3 713.3,360.2 718,360.2 722.7,360.2 727.4,360.3 732.2,360.3 736.9,360.4 741.6,360.4 746.4,360.5 751.1,360.6 755.8,360.7 760.5,360.8 765.3,361 770,361.1 774.7,361.3 779.4,361.4 784.2,361.6 788.9,361.8 793.6,362 798.3,362.2 803.1,362.4 807.8,362.6 812.5,362.8 817.2,363 822,363.2 826.7,363.4 831.4,363.6 836.1,363.8 840.9,364 845.6,364.2 850.3,364.5 855,364.7 859.8,364.9 864.5,365.1 869.2,365.3 874,365.5 878.7,365.7 883.4,366 888.1,366.2 892.9,366.4 897.6,366.6 902.3,366.8 907,367 907,383.9 902.3,383.6 897.6,383.2 892.9,382.8 888.1,382.5 883.4,382.1 878.7,381.8 874,381.4 869.2,381.1 864.5,380.8 859.8,380.5 855,380.2 850.3,379.9 845.6,379.6 840.9,379.3 836.1,379 831.4,378.8 826.7,378.5 822,378.3 817.2,378.1 812.5,377.9 807.8,377.7 803.1,377.5 798.3,377.3 793.6,377.2 788.9,377 784.2,376.9 779.4,376.7 774.7,376.6 770,376.5 765.3,376.4 760.5,376.3 755.8,376.2 751.1,376.1 746.4,376 741.6,375.9 736.9,375.9 732.2,375.8 727.4,375.8 722.7,375.8 718,375.8 713.3,375.8 708.5,375.9 703.8,375.9 699.1,376 694.4,376.2 689.6,376.3 684.9,376.5 680.2,376.7 675.5,377 670.7,377.3 666,377.6 661.3,377.9 656.6,378.3 651.8,378.6 647.1,379 642.4,379.4 637.7,379.8 632.9,380.2 628.2,380.6 623.5,381 618.7,381.4 614,381.8 609.3,382.2 604.6,382.5 599.8,382.9 595.1,383.3 590.4,383.6 585.7,384 580.9,384.4 576.2,384.7 571.5,385.1 566.8,385.5 562,385.9 557.3,386.3 552.6,386.7 547.9,387.1 543.1,387.5 538.4,388 533.7,388.4 529,388.9 524.2,389.4 519.5,389.9 514.8,390.4 510.1,390.8 505.3,391.3 500.6,391.8 495.9,392.3 491.1,392.8 486.4,393.3 481.7,393.7 477,394.2 472.2,394.6 467.5,395.1 462.8,395.5 458.1,395.9 453.3,396.3 448.6,396.7 443.9,397 439.2,397.4 434.4,397.7 429.7,398 425,398.4 420.3,398.6 415.5,398.9 410.8,399.2 406.1,399.4 401.4,399.6 396.6,399.8 391.9,400.1 387.2,400.3 382.4,400.5 377.7,400.7 373,400.9 368.3,401.1 363.5,401.4 358.8,401.6 354.1,401.9 349.4,402.1 344.6,402.4 339.9,402.8 335.2,403.1 330.5,403.5 325.7,403.9 321,404.3 316.3,404.9 311.6,405.5 306.8,406.2 302.1,407.1 297.4,408.2 292.7,409.5 287.9,411 283.2,412.8 278.5,414.9 273.8,417.2 269,419.8 264.3,422.6 259.6,425.7 254.8,429.1 250.1,432.7 245.4,436.5 240.7,440.6 235.9,444.9 231.2,449.4 226.5,454 221.8,458.9 217,463.9 212.3,469.2 207.6,474.5 202.9,480.1 198.1,485.8 193.4,491.6 188.7,497.5 184,503.5 179.2,509.6 174.5,515.7 169.8,521.9 165.1,528.2 160.3,534.5 155.6,540.7Z" fill="#00cd00"/>
<path d="M155.6,599.5 160.3,590.2 165.1,581 169.8,571.8 174.5,562.6 179.2,553.4 184,544.4 188.7,535.3 193.4,526.4 198.1,517.6 202.9,508.8 207.6,500.2 212.3,491.7 217,483.3 221.8,475.1 226.5,466.9 231.2,459 235.9,451.2 240.7,443.5 245.4,436.1 250.1,428.8 254.8,421.9 259.6,415.2 264.3,408.8 269,402.8 273.8,397 278.5,391.6 283.2,386.5 287.9,381.6 292.7,377.1 297.4,372.9 302.1,369 306.8,365.3 311.6,362 316.3,358.9 321,356.1 325.7,353.5 330.5,351.1 335.2,348.9 339.9,346.9 344.6,345 349.4,343.3 354.1,341.7 358.8,340.3 363.5,338.9 368.3,337.6 373,336.4 377.7,335.3 382.4,334.2 387.2,333.2 391.9,332.2 396.6,331.3 401.4,330.4 406.1,329.6 410.8,328.9 415.5,328.1 420.3,327.4 425,326.8 429.7,326.2 434.4,325.6 439.2,325.1 443.9,324.5 448.6,324.1 453.3,323.6 458.1,323.1 462.8,322.7 467.5,322.3 472.2,321.9 477,321.6 481.7,321.2 486.4,320.9 491.1,320.5 495.9,320.2 500.6,319.9 505.3,319.6 510.1,319.2 514.8,318.9 519.5,318.6 524.2,318.3 529,318.1 533.7,317.8 538.4,317.6 543.1,317.4 547.9,317.2 552.6,317 557.3,316.9 562,316.8 566.8,316.7 571.5,316.6 576.2,316.6 580.9,316.6 585.7,316.5 590.4,316.6 595.1,316.6 599.8,316.6 604.6,316.7 609.3,316.7 614,316.8 618.7,316.9 623.5,317 628.2,317.2 632.9,317.3 637.7,317.4 642.4,317.6 647.1,317.8 651.8,317.9 656.6,318.1 661.3,318.3 666,318.5 670.7,318.8 675.5,319 680.2,319.2 684.9,319.5 689.6,319.8 694.4,320 699.1,320.3 703.8,320.6 708.5,320.9 713.3,321.2 718,321.6 722.7,321.9 727.4,322.3 732.2,322.7 736.9,323 741.6,323.4 746.4,323.9 751.1,324.3 755.8,324.8 760.5,325.2 765.3,325.7 770,326.2 774.7,326.7 779.4,327.3 784.2,327.8 788.9,328.3 793.6,328.9 798.3,329.4 803.1,330 807.8,330.5 812.5,331.1 817.2,331.6 822,332.2 826.7,332.7 831.4,333.2 836.1,333.7 840.9,334.2 845.6,334.7 850.3,335.2 855,335.7 859.8,336.2 864.5,336.7 869.2,337.2 874,337.6 878.7,338.1 883.4,338.6 888.1,339 892.9,339.5 897.6,340 902.3,340.5 907,340.9 907,361.9 902.3,361.2 897.6,360.5 892.9,359.8 888.1,359.1 883.4,358.4 878.7,357.7 874,357 869.2,356.3 864.5,355.6 859.8,355 855,354.3 850.3,353.6 845.6,352.9 840.9,352.3 836.1,351.6 831.4,350.9 826.7,350.3 822,349.6 817.2,349 812.5,348.4 807.8,347.7 803.1,347.1 798.3,346.5 793.6,345.9 788.9,345.3 784.2,344.7 779.4,344.1 774.7,343.6 770,343.1 765.3,342.5 760.5,342 755.8,341.6 751.1,341.1 746.4,340.7 741.6,340.2 736.9,339.8 732.2,339.4 727.4,339.1 722.7,338.7 718,338.3 713.3,338 708.5,337.6 703.8,337.3 699.1,337 694.4,336.7 689.6,336.3 684.9,336 680.2,335.7 675.5,335.4 670.7,335.1 666,334.8 661.3,334.5 656.6,334.2 651.8,333.9 647.1,333.7 642.4,333.4 637.7,333.2 632.9,332.9 628.2,332.7 623.5,332.6 618.7,332.4 614,332.3 609.3,332.2 604.6,332.1 599.8,332.1 595.1,332 590.4,332 585.7,332.1 580.9,332.1 576.2,332.2 571.5,332.3 566.8,332.4 562,332.6 557.3,332.8 552.6,333 547.9,333.2 543.1,333.5 538.4,333.8 533.7,334.1 529,334.4 524.2,334.8 519.5,335.2 514.8,335.6 510.1,336 505.3,336.4 500.6,336.8 495.9,337.3 491.1,337.7 486.4,338.2 481.7,338.7 477,339.2 472.2,339.7 467.5,340.3 462.8,340.9 458.1,341.5 453.3,342.2 448.6,342.8 443.9,343.6 439.2,344.3 434.4,345.1 429.7,346 425,346.9 420.3,347.8 415.5,348.8 410.8,349.9 406.1,351 401.4,352.1 396.6,353.3 391.9,354.6 387.2,355.8 382.4,357.2 377.7,358.6 373,360 368.3,361.5 363.5,363 358.8,364.7 354.1,366.4 349.4,368.2 344.6,370.2 339.9,372.3 335.2,374.5 330.5,376.9 325.7,379.6 321,382.4 316.3,385.5 311.6,388.8 306.8,392.4 302.1,396.3 297.4,400.3 292.7,404.6 287.9,409.2 283.2,414 278.5,419 273.8,424.4 269,430 264.3,436 259.6,442.3 254.8,448.9 250.1,455.8 245.4,462.9 240.7,470.2 235.9,477.8 231.2,485.5 226.5,493.4 221.8,501.5 217,509.7 212.3,518 207.6,526.4 202.9,534.9 198.1,543.5 193.4,552.2 188.7,560.9 184,569.6 179.2,578.4 174.5,587.3 169.8,596.1 165.1,605 160.3,613.9 155.6,622.8Z" fill="#00f"/>
<path d="M155.6,631.1 214,574.5 272.4,520.1 330.8,496.5 389.2,485.3 447.6,479.2 506,476.4 564.5,476.1 622.9,477.8 681.3,480.8 739.7,484.7 798.1,488.8 856.5,493.1 914.9,497.3 973.3,501.3 1031.7,505.2" class="ds"/>
<path d="M155.6,550.7 214,486 272.4,428 330.8,403.6 389.2,392.7 447.6,387.1 506,384.9 564.5,385.5 622.9,388.2 681.3,392.4 739.7,397.3 798.1,402.6 856.5,407.9 914.9,413.1 973.3,418.1 1031.7,422.9" class="ds"/>
<path d="M155.6,451.9 214,387.3 272.4,323.5 330.8,296.9 389.2,285.3 447.6,279.5 506,277.5 564.5,278.5 622.9,281.9 681.3,286.9 739.7,292.8 798.1,299 856.5,305.2 914.9,311.4 973.3,317.3 1031.7,322.9" class="ds"/>
<path d="M155.6,632.8 214,593.4 272.4,547.3 330.8,524.2 389.2,511.4 447.6,504.1 506,500.6 564.5,500 622.9,501.6 681.3,504.6 739.7,508.5 798.1,512.7 856.5,517.1 914.9,521.2 973.3,525.2 1031.7,528.9" class="dt"/>
<path d="M155.6,553.7 214,501.8 272.4,451.3 330.8,426.4 389.2,413.2 447.6,406.2 506,403.2 564.5,403.5 622.9,406.1 681.3,410.3 739.7,415.4 798.1,420.9 856.5,426.5 914.9,431.7 973.3,436.7 1031.7,441.4" class="dt"/>
<path d="M155.6,460.6 214,400.3 272.4,342.1 330.8,313.7 389.2,298.8 447.6,290.9 506,287.8 564.5,288.3 622.9,291.6 681.3,296.7 739.7,302.9 798.1,309.4 856.5,316 914.9,322.3 973.3,328.2 1031.7,333.8" class="dt1"/>
</g>
<rect x="648" y="594" width="288.4" height="168.8" class="lg"/>
<text x="792" y="622.6" class="tl" text-anchor="middle">BMI trajectories</text>
<path d="M669.2,650.0H710.6" stroke="#000" stroke-width="5.5" stroke-linecap="round"/>
<text x="732.3" y="659.0" class="tl">1: n=1089 (30.9%)</text>
<path d="M669.2,678.2H710.6" stroke="#f00" stroke-width="5.5" stroke-linecap="round"/>
<text x="732.3" y="687.2" class="tl">2: n=998 (28.3%)</text>
<path d="M669.2,706.4H710.6" stroke="#00cd00" stroke-width="5.5" stroke-linecap="round"/>
<text x="732.3" y="715.4" class="tl">3: n=965 (27.4%)</text>
<path d="M669.2,734.6H710.6" stroke="#00f" stroke-width="5.5" stroke-linecap="round"/>
<text x="732.3" y="743.6" class="tl">4: n=473 (13.4%)</text>
<rect x="125.5" y="36.0" width="810.9" height="726.8" class="bx"/>
<path d="M155.6,762.8V777.8" class="tk"/>
<text x="155.6" y="814.4" class="tl" text-anchor="middle">0.0</text>
<path d="M295.8,762.8V777.8" class="tk"/>
<text x="295.8" y="814.4" class="tl" text-anchor="middle">0.2</text>
<path d="M436.0,762.8V777.8" class="tk"/>
<text x="436.0" y="814.4" class="tl" text-anchor="middle">0.4</text>
<path d="M576.1,762.8V777.8" class="tk"/>
<text x="576.1" y="814.4" class="tl" text-anchor="middle">0.6</text>
<path d="M716.3,762.8V777.8" class="tk"/>
<text x="716.3" y="814.4" class="tl" text-anchor="middle">0.8</text>
<path d="M856.5,762.8V777.8" class="tk"/>
<text x="856.5" y="814.4" class="tl" text-anchor="middle">1.0</text>
<path d="M125.5,694.2H110.5" class="tk"/>
<text transform="translate(92.2,694.2) rotate(-90)" class="tl" text-anchor="middle">10</text>
<path d="M125.5,483.6H110.5" class="tk"/>
<text transform="translate(92.2,483.6) rotate(-90)" class="tl" text-anchor="middle">15</text>
<path d="M125.5,273.0H110.5" class="tk"/>
<text transform="translate(92.2,273.0) rotate(-90)" class="tl" text-anchor="middle">20</text>
<path d="M125.5,62.4H110.5" class="tk"/>
<text transform="translate(92.2,62.4) rotate(-90)" class="tl" text-anchor="middle">25</text>
<text x="531.0" y="870" class="tl" text-anchor="middle">Age (years)</text>
<text transform="translate(35.7,399.4) rotate(-90)" class="tl" text-anchor="middle">BMI</text>
</g>
</svg></body></html>
